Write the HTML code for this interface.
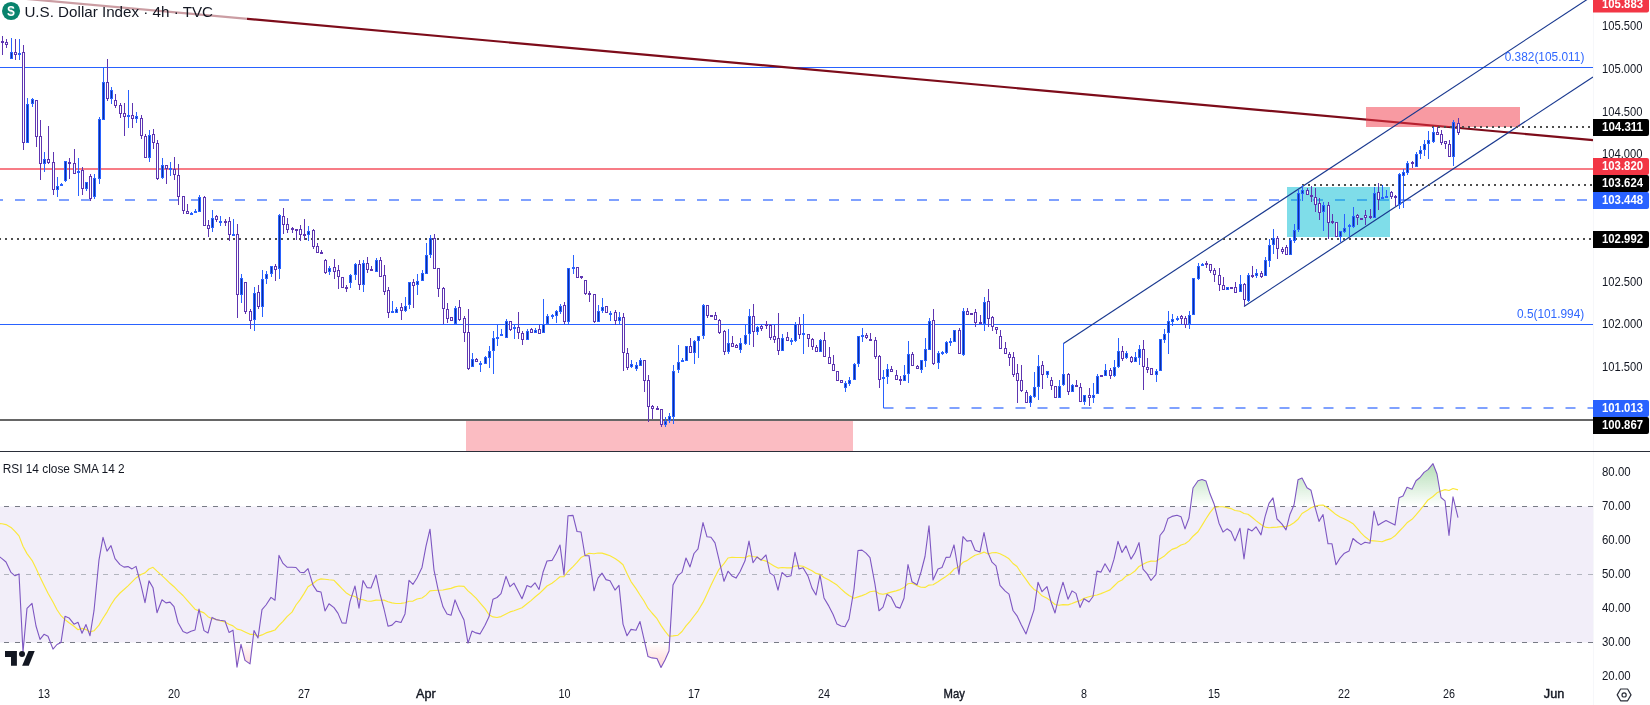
<!DOCTYPE html>
<html><head><meta charset="utf-8"><title>U.S. Dollar Index</title>
<style>
html,body{margin:0;padding:0;background:#fff;overflow:hidden}
body{width:1650px;height:705px;font-family:"Liberation Sans",sans-serif}
svg{display:block;position:absolute;left:0;top:0;will-change:transform}
</style></head><body>
<svg width="1650" height="705" viewBox="0 0 1650 705">
<rect x="0" y="506.5" width="1593" height="136.0" fill="#f2eef9"/>
<line x1="0" y1="506.5" x2="1593" y2="506.5" stroke="#787b86" stroke-width="1" stroke-dasharray="5 6" stroke-dashoffset="7"/>
<line x1="0" y1="574.5" x2="1593" y2="574.5" stroke="#b2b5be" stroke-width="1" stroke-dasharray="5 6" stroke-dashoffset="7"/>
<line x1="0" y1="642.5" x2="1593" y2="642.5" stroke="#787b86" stroke-width="1" stroke-dasharray="5 6" stroke-dashoffset="7"/>
<defs><linearGradient id="obg" gradientUnits="userSpaceOnUse" x1="0" y1="404.5" x2="0" y2="506.5"><stop offset="0" stop-color="#4caf50" stop-opacity="1"/><stop offset="1" stop-color="#4caf50" stop-opacity="0"/></linearGradient><linearGradient id="osg" gradientUnits="userSpaceOnUse" x1="0" y1="642.5" x2="0" y2="744.5"><stop offset="0" stop-color="#ff5252" stop-opacity="0"/><stop offset="1" stop-color="#ff5252" stop-opacity="1"/></linearGradient></defs><clipPath id="ob"><rect x="0" y="452" width="1593" height="54.5"/></clipPath><polygon points="-2.2,506.5 -2.2,555.5 2.0,558.6 6.0,562.0 11.0,572.4 15.0,575.8 19.0,573.9 23.0,651.9 27.0,608.4 32.0,603.4 36.0,626.0 40.0,639.4 44.0,634.3 48.0,636.2 53.0,649.1 57.0,644.5 61.0,642.4 65.0,616.3 69.0,617.9 74.0,624.2 78.0,622.3 82.0,633.2 86.0,624.6 90.0,635.7 94.0,610.7 99.0,559.8 103.0,537.4 107.0,551.1 111.0,545.7 115.0,558.6 120.0,564.6 124.0,567.1 128.0,566.6 132.0,568.9 136.0,566.4 141.0,585.2 145.0,602.6 149.0,580.9 153.0,587.7 157.0,612.7 162.0,599.8 166.0,602.9 170.0,602.1 174.0,606.6 178.0,622.5 183.0,631.5 187.0,633.3 191.0,631.3 195.0,630.0 199.0,609.1 204.0,630.6 208.0,633.0 212.0,617.4 216.0,619.6 220.0,620.3 225.0,621.0 229.0,632.4 233.0,630.2 237.0,667.2 241.0,644.3 245.0,660.4 250.0,663.9 254.0,630.5 258.0,638.0 262.0,609.7 266.0,605.0 271.0,597.4 275.0,600.2 279.0,555.4 283.0,563.4 287.0,567.2 292.0,567.2 296.0,567.5 300.0,572.2 304.0,572.6 308.0,568.7 313.0,585.1 317.0,591.1 321.0,592.0 325.0,610.9 329.0,603.8 334.0,607.6 338.0,613.4 342.0,622.9 346.0,623.3 350.0,601.6 355.0,586.0 359.0,608.2 363.0,580.6 367.0,587.6 371.0,588.0 376.0,574.9 380.0,593.9 384.0,609.0 388.0,626.2 392.0,625.1 396.0,621.2 401.0,622.5 405.0,613.9 409.0,580.3 413.0,584.3 417.0,578.0 422.0,567.4 426.0,546.1 430.0,529.2 434.0,570.1 438.0,589.2 443.0,606.8 447.0,613.9 451.0,615.3 455.0,599.9 459.0,609.7 464.0,620.0 468.0,643.2 472.0,631.1 476.0,632.9 480.0,633.9 485.0,625.2 489.0,616.8 493.0,599.2 497.0,597.5 501.0,593.7 506.0,576.4 510.0,586.7 514.0,583.2 518.0,591.0 522.0,598.7 527.0,585.5 531.0,587.2 535.0,582.8 539.0,589.5 543.0,572.3 547.0,561.0 552.0,560.4 556.0,553.4 560.0,545.1 564.0,574.9 568.0,515.7 573.0,515.4 577.0,531.5 581.0,532.0 585.0,555.7 589.0,555.7 594.0,590.8 598.0,578.1 602.0,573.1 606.0,579.6 610.0,580.8 615.0,590.1 619.0,585.3 623.0,624.1 627.0,635.8 631.0,629.4 636.0,630.2 640.0,621.6 644.0,639.1 648.0,656.6 652.0,657.9 657.0,658.5 661.0,667.4 665.0,660.0 669.0,651.1 673.0,585.1 678.0,575.4 682.0,572.4 686.0,558.0 690.0,566.9 694.0,553.5 698.0,548.9 703.0,522.6 707.0,536.8 711.0,537.3 715.0,542.9 719.0,559.6 724.0,581.3 728.0,571.2 732.0,575.9 736.0,578.1 740.0,571.7 745.0,560.8 749.0,541.1 753.0,562.7 757.0,557.0 761.0,560.1 766.0,555.0 770.0,573.1 774.0,575.6 778.0,590.2 782.0,572.5 787.0,576.8 791.0,575.7 795.0,552.3 799.0,569.0 803.0,567.7 808.0,576.1 812.0,588.1 816.0,595.0 820.0,574.9 824.0,598.0 829.0,606.4 833.0,614.3 837.0,624.1 841.0,626.0 845.0,626.8 849.0,619.0 854.0,589.1 858.0,550.5 862.0,550.1 866.0,553.1 870.0,557.6 875.0,584.3 879.0,610.8 883.0,607.2 887.0,594.3 891.0,597.1 896.0,606.9 900.0,608.1 904.0,598.2 908.0,564.5 912.0,581.8 917.0,584.8 921.0,572.0 925.0,556.5 929.0,525.7 933.0,579.9 938.0,568.9 942.0,567.5 946.0,557.4 950.0,557.1 954.0,544.9 959.0,574.5 963.0,536.6 967.0,541.1 971.0,540.5 975.0,550.3 980.0,552.1 984.0,532.5 988.0,552.6 992.0,562.2 996.0,565.8 1000.0,585.4 1005.0,590.9 1009.0,594.2 1013.0,610.5 1017.0,615.8 1021.0,624.3 1026.0,633.9 1030.0,622.0 1034.0,609.8 1038.0,582.3 1042.0,591.7 1047.0,586.6 1051.0,602.0 1055.0,613.0 1059.0,595.7 1063.0,582.2 1068.0,599.2 1072.0,590.9 1076.0,593.4 1080.0,607.4 1084.0,598.7 1089.0,602.0 1093.0,596.5 1097.0,571.1 1101.0,572.1 1105.0,563.7 1110.0,572.2 1114.0,559.2 1118.0,541.4 1122.0,552.5 1126.0,545.9 1131.0,559.1 1135.0,552.5 1139.0,542.6 1143.0,569.1 1147.0,573.6 1151.0,580.5 1156.0,574.3 1160.0,535.5 1164.0,530.4 1168.0,518.4 1172.0,516.4 1177.0,515.2 1181.0,516.7 1185.0,528.9 1189.0,518.0 1193.0,488.0 1198.0,480.8 1202.0,479.5 1206.0,481.1 1210.0,493.8 1214.0,503.7 1219.0,523.2 1223.0,532.1 1227.0,528.8 1231.0,531.5 1235.0,540.9 1240.0,528.2 1244.0,559.0 1248.0,528.7 1252.0,530.9 1256.0,526.8 1261.0,534.9 1265.0,516.8 1269.0,503.4 1273.0,497.9 1277.0,519.0 1282.0,524.1 1286.0,529.9 1290.0,514.2 1294.0,505.0 1298.0,479.8 1302.0,478.0 1307.0,487.8 1311.0,490.3 1315.0,507.0 1319.0,521.4 1323.0,514.5 1328.0,543.8 1332.0,543.8 1336.0,564.8 1340.0,558.1 1344.0,553.6 1349.0,551.1 1353.0,538.5 1357.0,542.0 1361.0,544.6 1365.0,542.2 1370.0,543.2 1374.0,511.1 1378.0,525.2 1382.0,522.7 1386.0,520.6 1391.0,523.0 1395.0,525.1 1399.0,497.8 1403.0,495.9 1407.0,487.3 1412.0,489.3 1416.0,480.7 1420.0,477.5 1424.0,472.4 1428.0,469.6 1433.0,463.7 1437.0,474.0 1441.0,497.5 1445.0,500.8 1449.0,535.5 1453.0,496.9 1458.0,517.6 1458.0,506.5" fill="url(#obg)" clip-path="url(#ob)"/><clipPath id="os"><rect x="0" y="642.5" width="1593" height="47.5"/></clipPath><polygon points="-2.2,642.5 -2.2,555.5 2.0,558.6 6.0,562.0 11.0,572.4 15.0,575.8 19.0,573.9 23.0,651.9 27.0,608.4 32.0,603.4 36.0,626.0 40.0,639.4 44.0,634.3 48.0,636.2 53.0,649.1 57.0,644.5 61.0,642.4 65.0,616.3 69.0,617.9 74.0,624.2 78.0,622.3 82.0,633.2 86.0,624.6 90.0,635.7 94.0,610.7 99.0,559.8 103.0,537.4 107.0,551.1 111.0,545.7 115.0,558.6 120.0,564.6 124.0,567.1 128.0,566.6 132.0,568.9 136.0,566.4 141.0,585.2 145.0,602.6 149.0,580.9 153.0,587.7 157.0,612.7 162.0,599.8 166.0,602.9 170.0,602.1 174.0,606.6 178.0,622.5 183.0,631.5 187.0,633.3 191.0,631.3 195.0,630.0 199.0,609.1 204.0,630.6 208.0,633.0 212.0,617.4 216.0,619.6 220.0,620.3 225.0,621.0 229.0,632.4 233.0,630.2 237.0,667.2 241.0,644.3 245.0,660.4 250.0,663.9 254.0,630.5 258.0,638.0 262.0,609.7 266.0,605.0 271.0,597.4 275.0,600.2 279.0,555.4 283.0,563.4 287.0,567.2 292.0,567.2 296.0,567.5 300.0,572.2 304.0,572.6 308.0,568.7 313.0,585.1 317.0,591.1 321.0,592.0 325.0,610.9 329.0,603.8 334.0,607.6 338.0,613.4 342.0,622.9 346.0,623.3 350.0,601.6 355.0,586.0 359.0,608.2 363.0,580.6 367.0,587.6 371.0,588.0 376.0,574.9 380.0,593.9 384.0,609.0 388.0,626.2 392.0,625.1 396.0,621.2 401.0,622.5 405.0,613.9 409.0,580.3 413.0,584.3 417.0,578.0 422.0,567.4 426.0,546.1 430.0,529.2 434.0,570.1 438.0,589.2 443.0,606.8 447.0,613.9 451.0,615.3 455.0,599.9 459.0,609.7 464.0,620.0 468.0,643.2 472.0,631.1 476.0,632.9 480.0,633.9 485.0,625.2 489.0,616.8 493.0,599.2 497.0,597.5 501.0,593.7 506.0,576.4 510.0,586.7 514.0,583.2 518.0,591.0 522.0,598.7 527.0,585.5 531.0,587.2 535.0,582.8 539.0,589.5 543.0,572.3 547.0,561.0 552.0,560.4 556.0,553.4 560.0,545.1 564.0,574.9 568.0,515.7 573.0,515.4 577.0,531.5 581.0,532.0 585.0,555.7 589.0,555.7 594.0,590.8 598.0,578.1 602.0,573.1 606.0,579.6 610.0,580.8 615.0,590.1 619.0,585.3 623.0,624.1 627.0,635.8 631.0,629.4 636.0,630.2 640.0,621.6 644.0,639.1 648.0,656.6 652.0,657.9 657.0,658.5 661.0,667.4 665.0,660.0 669.0,651.1 673.0,585.1 678.0,575.4 682.0,572.4 686.0,558.0 690.0,566.9 694.0,553.5 698.0,548.9 703.0,522.6 707.0,536.8 711.0,537.3 715.0,542.9 719.0,559.6 724.0,581.3 728.0,571.2 732.0,575.9 736.0,578.1 740.0,571.7 745.0,560.8 749.0,541.1 753.0,562.7 757.0,557.0 761.0,560.1 766.0,555.0 770.0,573.1 774.0,575.6 778.0,590.2 782.0,572.5 787.0,576.8 791.0,575.7 795.0,552.3 799.0,569.0 803.0,567.7 808.0,576.1 812.0,588.1 816.0,595.0 820.0,574.9 824.0,598.0 829.0,606.4 833.0,614.3 837.0,624.1 841.0,626.0 845.0,626.8 849.0,619.0 854.0,589.1 858.0,550.5 862.0,550.1 866.0,553.1 870.0,557.6 875.0,584.3 879.0,610.8 883.0,607.2 887.0,594.3 891.0,597.1 896.0,606.9 900.0,608.1 904.0,598.2 908.0,564.5 912.0,581.8 917.0,584.8 921.0,572.0 925.0,556.5 929.0,525.7 933.0,579.9 938.0,568.9 942.0,567.5 946.0,557.4 950.0,557.1 954.0,544.9 959.0,574.5 963.0,536.6 967.0,541.1 971.0,540.5 975.0,550.3 980.0,552.1 984.0,532.5 988.0,552.6 992.0,562.2 996.0,565.8 1000.0,585.4 1005.0,590.9 1009.0,594.2 1013.0,610.5 1017.0,615.8 1021.0,624.3 1026.0,633.9 1030.0,622.0 1034.0,609.8 1038.0,582.3 1042.0,591.7 1047.0,586.6 1051.0,602.0 1055.0,613.0 1059.0,595.7 1063.0,582.2 1068.0,599.2 1072.0,590.9 1076.0,593.4 1080.0,607.4 1084.0,598.7 1089.0,602.0 1093.0,596.5 1097.0,571.1 1101.0,572.1 1105.0,563.7 1110.0,572.2 1114.0,559.2 1118.0,541.4 1122.0,552.5 1126.0,545.9 1131.0,559.1 1135.0,552.5 1139.0,542.6 1143.0,569.1 1147.0,573.6 1151.0,580.5 1156.0,574.3 1160.0,535.5 1164.0,530.4 1168.0,518.4 1172.0,516.4 1177.0,515.2 1181.0,516.7 1185.0,528.9 1189.0,518.0 1193.0,488.0 1198.0,480.8 1202.0,479.5 1206.0,481.1 1210.0,493.8 1214.0,503.7 1219.0,523.2 1223.0,532.1 1227.0,528.8 1231.0,531.5 1235.0,540.9 1240.0,528.2 1244.0,559.0 1248.0,528.7 1252.0,530.9 1256.0,526.8 1261.0,534.9 1265.0,516.8 1269.0,503.4 1273.0,497.9 1277.0,519.0 1282.0,524.1 1286.0,529.9 1290.0,514.2 1294.0,505.0 1298.0,479.8 1302.0,478.0 1307.0,487.8 1311.0,490.3 1315.0,507.0 1319.0,521.4 1323.0,514.5 1328.0,543.8 1332.0,543.8 1336.0,564.8 1340.0,558.1 1344.0,553.6 1349.0,551.1 1353.0,538.5 1357.0,542.0 1361.0,544.6 1365.0,542.2 1370.0,543.2 1374.0,511.1 1378.0,525.2 1382.0,522.7 1386.0,520.6 1391.0,523.0 1395.0,525.1 1399.0,497.8 1403.0,495.9 1407.0,487.3 1412.0,489.3 1416.0,480.7 1420.0,477.5 1424.0,472.4 1428.0,469.6 1433.0,463.7 1437.0,474.0 1441.0,497.5 1445.0,500.8 1449.0,535.5 1453.0,496.9 1458.0,517.6 1458.0,642.5" fill="url(#osg)" clip-path="url(#os)"/><polyline points="-2.2,523.5 2.0,523.8 6.0,524.6 11.0,527.4 15.0,531.4 19.0,535.9 23.0,546.3 27.0,553.6 32.0,560.3 36.0,568.3 40.0,577.1 44.0,585.3 48.0,593.3 53.0,602.0 57.0,609.7 61.0,615.7 65.0,619.6 69.0,622.8 74.0,626.3 78.0,629.7 82.0,628.4 86.0,629.6 90.0,631.9 94.0,630.8 99.0,625.1 103.0,618.2 107.0,612.1 111.0,604.7 115.0,598.6 120.0,593.0 124.0,589.5 128.0,585.8 132.0,581.9 136.0,577.9 141.0,574.5 145.0,572.9 149.0,569.0 153.0,567.3 157.0,571.1 162.0,575.6 166.0,579.3 170.0,583.3 174.0,586.7 178.0,590.9 183.0,595.5 187.0,600.2 191.0,604.7 195.0,609.2 199.0,610.9 204.0,612.9 208.0,616.7 212.0,618.8 216.0,619.3 220.0,620.7 225.0,622.0 229.0,624.2 233.0,625.9 237.0,629.1 241.0,630.0 245.0,631.9 250.0,634.3 254.0,634.3 258.0,636.3 262.0,634.9 266.0,632.9 271.0,631.4 275.0,630.0 279.0,625.4 283.0,621.3 287.0,616.6 292.0,612.1 296.0,605.0 300.0,599.9 304.0,593.6 308.0,586.8 313.0,583.5 317.0,580.2 321.0,578.9 325.0,579.3 329.0,579.8 334.0,580.3 338.0,584.5 342.0,588.7 346.0,592.7 350.0,595.2 355.0,596.5 359.0,599.1 363.0,599.7 367.0,601.0 371.0,601.2 376.0,600.1 380.0,600.2 384.0,600.1 388.0,601.7 392.0,602.9 396.0,603.5 401.0,603.4 405.0,602.8 409.0,601.2 413.0,601.1 417.0,599.0 422.0,598.0 426.0,595.1 430.0,590.9 434.0,590.5 438.0,590.2 443.0,590.0 447.0,589.1 451.0,588.4 455.0,586.9 459.0,586.0 464.0,586.4 468.0,590.9 472.0,594.3 476.0,598.2 480.0,602.9 485.0,608.6 489.0,614.8 493.0,616.9 497.0,617.5 501.0,616.6 506.0,613.9 510.0,611.9 514.0,610.7 518.0,609.3 522.0,607.8 527.0,603.7 531.0,600.6 535.0,597.0 539.0,593.8 543.0,590.0 547.0,586.0 552.0,583.3 556.0,580.1 560.0,576.7 564.0,576.6 568.0,571.5 573.0,566.6 577.0,562.4 581.0,557.6 585.0,555.5 589.0,553.2 594.0,553.8 598.0,553.0 602.0,553.1 606.0,554.4 610.0,555.8 615.0,558.5 619.0,561.3 623.0,564.8 627.0,573.4 631.0,581.6 636.0,588.6 640.0,595.0 644.0,601.0 648.0,608.2 652.0,613.0 657.0,618.7 661.0,625.4 665.0,631.2 669.0,636.2 673.0,635.9 678.0,635.2 682.0,631.5 686.0,625.9 690.0,621.4 694.0,616.0 698.0,610.8 703.0,602.4 707.0,593.9 711.0,585.3 715.0,577.0 719.0,569.3 724.0,563.7 728.0,558.0 732.0,557.3 736.0,557.5 740.0,557.5 745.0,557.7 749.0,555.8 753.0,556.5 757.0,557.1 761.0,559.7 766.0,561.1 770.0,563.6 774.0,565.9 778.0,568.1 782.0,567.5 787.0,567.9 791.0,567.9 795.0,566.0 799.0,565.8 803.0,566.3 808.0,568.8 812.0,570.7 816.0,573.4 820.0,574.4 824.0,577.5 829.0,579.9 833.0,582.6 837.0,585.1 841.0,588.9 845.0,592.5 849.0,595.5 854.0,598.2 858.0,596.9 862.0,595.6 866.0,594.0 870.0,591.8 875.0,591.0 879.0,593.6 883.0,594.2 887.0,593.4 891.0,592.1 896.0,590.9 900.0,589.6 904.0,587.6 908.0,583.7 912.0,583.2 917.0,585.6 921.0,587.2 925.0,587.4 929.0,585.1 933.0,584.8 938.0,581.8 942.0,579.0 946.0,576.4 950.0,573.5 954.0,569.1 959.0,566.7 963.0,562.3 967.0,560.6 971.0,557.7 975.0,555.2 980.0,553.8 984.0,552.1 988.0,554.0 992.0,552.7 996.0,552.5 1000.0,553.8 1005.0,556.2 1009.0,558.8 1013.0,563.5 1017.0,566.5 1021.0,572.7 1026.0,579.4 1030.0,585.2 1034.0,589.4 1038.0,591.6 1042.0,595.8 1047.0,598.3 1051.0,601.1 1055.0,604.5 1059.0,605.2 1063.0,604.6 1068.0,604.9 1072.0,603.5 1076.0,601.9 1080.0,600.7 1084.0,598.2 1089.0,596.8 1093.0,595.8 1097.0,595.0 1101.0,593.6 1105.0,592.0 1110.0,589.9 1114.0,586.0 1118.0,582.1 1122.0,580.0 1126.0,576.2 1131.0,573.9 1135.0,571.0 1139.0,566.4 1143.0,564.3 1147.0,562.3 1151.0,561.1 1156.0,561.3 1160.0,558.7 1164.0,556.3 1168.0,552.5 1172.0,549.4 1177.0,547.6 1181.0,545.0 1185.0,543.8 1189.0,540.9 1193.0,536.2 1198.0,531.8 1202.0,525.4 1206.0,518.8 1210.0,512.6 1214.0,507.6 1219.0,506.7 1223.0,506.8 1227.0,507.6 1231.0,508.6 1235.0,510.5 1240.0,511.3 1244.0,513.5 1248.0,514.2 1252.0,517.3 1256.0,520.6 1261.0,524.5 1265.0,527.1 1269.0,527.8 1273.0,527.4 1277.0,527.1 1282.0,526.5 1286.0,526.6 1290.0,525.3 1294.0,522.8 1298.0,519.3 1302.0,513.5 1307.0,510.6 1311.0,507.7 1315.0,506.3 1319.0,505.3 1323.0,505.1 1328.0,508.0 1332.0,511.3 1336.0,514.6 1340.0,517.0 1344.0,518.7 1349.0,521.3 1353.0,523.7 1357.0,528.2 1361.0,532.9 1365.0,536.8 1370.0,540.6 1374.0,540.9 1378.0,541.2 1382.0,541.8 1386.0,540.1 1391.0,538.6 1395.0,535.8 1399.0,531.5 1403.0,527.4 1407.0,522.8 1412.0,519.3 1416.0,514.9 1420.0,510.1 1424.0,505.1 1428.0,499.9 1433.0,496.5 1437.0,492.8 1441.0,491.0 1445.0,489.6 1449.0,490.5 1453.0,488.5 1458.0,489.9" fill="none" stroke="#fbe83a" stroke-width="1.15" stroke-linejoin="round"/><polyline points="-2.2,555.5 2.0,558.6 6.0,562.0 11.0,572.4 15.0,575.8 19.0,573.9 23.0,651.9 27.0,608.4 32.0,603.4 36.0,626.0 40.0,639.4 44.0,634.3 48.0,636.2 53.0,649.1 57.0,644.5 61.0,642.4 65.0,616.3 69.0,617.9 74.0,624.2 78.0,622.3 82.0,633.2 86.0,624.6 90.0,635.7 94.0,610.7 99.0,559.8 103.0,537.4 107.0,551.1 111.0,545.7 115.0,558.6 120.0,564.6 124.0,567.1 128.0,566.6 132.0,568.9 136.0,566.4 141.0,585.2 145.0,602.6 149.0,580.9 153.0,587.7 157.0,612.7 162.0,599.8 166.0,602.9 170.0,602.1 174.0,606.6 178.0,622.5 183.0,631.5 187.0,633.3 191.0,631.3 195.0,630.0 199.0,609.1 204.0,630.6 208.0,633.0 212.0,617.4 216.0,619.6 220.0,620.3 225.0,621.0 229.0,632.4 233.0,630.2 237.0,667.2 241.0,644.3 245.0,660.4 250.0,663.9 254.0,630.5 258.0,638.0 262.0,609.7 266.0,605.0 271.0,597.4 275.0,600.2 279.0,555.4 283.0,563.4 287.0,567.2 292.0,567.2 296.0,567.5 300.0,572.2 304.0,572.6 308.0,568.7 313.0,585.1 317.0,591.1 321.0,592.0 325.0,610.9 329.0,603.8 334.0,607.6 338.0,613.4 342.0,622.9 346.0,623.3 350.0,601.6 355.0,586.0 359.0,608.2 363.0,580.6 367.0,587.6 371.0,588.0 376.0,574.9 380.0,593.9 384.0,609.0 388.0,626.2 392.0,625.1 396.0,621.2 401.0,622.5 405.0,613.9 409.0,580.3 413.0,584.3 417.0,578.0 422.0,567.4 426.0,546.1 430.0,529.2 434.0,570.1 438.0,589.2 443.0,606.8 447.0,613.9 451.0,615.3 455.0,599.9 459.0,609.7 464.0,620.0 468.0,643.2 472.0,631.1 476.0,632.9 480.0,633.9 485.0,625.2 489.0,616.8 493.0,599.2 497.0,597.5 501.0,593.7 506.0,576.4 510.0,586.7 514.0,583.2 518.0,591.0 522.0,598.7 527.0,585.5 531.0,587.2 535.0,582.8 539.0,589.5 543.0,572.3 547.0,561.0 552.0,560.4 556.0,553.4 560.0,545.1 564.0,574.9 568.0,515.7 573.0,515.4 577.0,531.5 581.0,532.0 585.0,555.7 589.0,555.7 594.0,590.8 598.0,578.1 602.0,573.1 606.0,579.6 610.0,580.8 615.0,590.1 619.0,585.3 623.0,624.1 627.0,635.8 631.0,629.4 636.0,630.2 640.0,621.6 644.0,639.1 648.0,656.6 652.0,657.9 657.0,658.5 661.0,667.4 665.0,660.0 669.0,651.1 673.0,585.1 678.0,575.4 682.0,572.4 686.0,558.0 690.0,566.9 694.0,553.5 698.0,548.9 703.0,522.6 707.0,536.8 711.0,537.3 715.0,542.9 719.0,559.6 724.0,581.3 728.0,571.2 732.0,575.9 736.0,578.1 740.0,571.7 745.0,560.8 749.0,541.1 753.0,562.7 757.0,557.0 761.0,560.1 766.0,555.0 770.0,573.1 774.0,575.6 778.0,590.2 782.0,572.5 787.0,576.8 791.0,575.7 795.0,552.3 799.0,569.0 803.0,567.7 808.0,576.1 812.0,588.1 816.0,595.0 820.0,574.9 824.0,598.0 829.0,606.4 833.0,614.3 837.0,624.1 841.0,626.0 845.0,626.8 849.0,619.0 854.0,589.1 858.0,550.5 862.0,550.1 866.0,553.1 870.0,557.6 875.0,584.3 879.0,610.8 883.0,607.2 887.0,594.3 891.0,597.1 896.0,606.9 900.0,608.1 904.0,598.2 908.0,564.5 912.0,581.8 917.0,584.8 921.0,572.0 925.0,556.5 929.0,525.7 933.0,579.9 938.0,568.9 942.0,567.5 946.0,557.4 950.0,557.1 954.0,544.9 959.0,574.5 963.0,536.6 967.0,541.1 971.0,540.5 975.0,550.3 980.0,552.1 984.0,532.5 988.0,552.6 992.0,562.2 996.0,565.8 1000.0,585.4 1005.0,590.9 1009.0,594.2 1013.0,610.5 1017.0,615.8 1021.0,624.3 1026.0,633.9 1030.0,622.0 1034.0,609.8 1038.0,582.3 1042.0,591.7 1047.0,586.6 1051.0,602.0 1055.0,613.0 1059.0,595.7 1063.0,582.2 1068.0,599.2 1072.0,590.9 1076.0,593.4 1080.0,607.4 1084.0,598.7 1089.0,602.0 1093.0,596.5 1097.0,571.1 1101.0,572.1 1105.0,563.7 1110.0,572.2 1114.0,559.2 1118.0,541.4 1122.0,552.5 1126.0,545.9 1131.0,559.1 1135.0,552.5 1139.0,542.6 1143.0,569.1 1147.0,573.6 1151.0,580.5 1156.0,574.3 1160.0,535.5 1164.0,530.4 1168.0,518.4 1172.0,516.4 1177.0,515.2 1181.0,516.7 1185.0,528.9 1189.0,518.0 1193.0,488.0 1198.0,480.8 1202.0,479.5 1206.0,481.1 1210.0,493.8 1214.0,503.7 1219.0,523.2 1223.0,532.1 1227.0,528.8 1231.0,531.5 1235.0,540.9 1240.0,528.2 1244.0,559.0 1248.0,528.7 1252.0,530.9 1256.0,526.8 1261.0,534.9 1265.0,516.8 1269.0,503.4 1273.0,497.9 1277.0,519.0 1282.0,524.1 1286.0,529.9 1290.0,514.2 1294.0,505.0 1298.0,479.8 1302.0,478.0 1307.0,487.8 1311.0,490.3 1315.0,507.0 1319.0,521.4 1323.0,514.5 1328.0,543.8 1332.0,543.8 1336.0,564.8 1340.0,558.1 1344.0,553.6 1349.0,551.1 1353.0,538.5 1357.0,542.0 1361.0,544.6 1365.0,542.2 1370.0,543.2 1374.0,511.1 1378.0,525.2 1382.0,522.7 1386.0,520.6 1391.0,523.0 1395.0,525.1 1399.0,497.8 1403.0,495.9 1407.0,487.3 1412.0,489.3 1416.0,480.7 1420.0,477.5 1424.0,472.4 1428.0,469.6 1433.0,463.7 1437.0,474.0 1441.0,497.5 1445.0,500.8 1449.0,535.5 1453.0,496.9 1458.0,517.6" fill="none" stroke="#7e57c2" stroke-width="1.1" stroke-linejoin="round"/>
<rect x="466" y="421" width="387" height="30" fill="#fbbcc2"/>
<line x1="0" y1="67.5" x2="1593" y2="67.5" stroke="#2962ff" stroke-width="1"/>
<line x1="0" y1="324.5" x2="1593" y2="324.5" stroke="#2962ff" stroke-width="1"/>
<line x1="0" y1="169" x2="1593" y2="169" stroke="#f77c86" stroke-width="2"/>
<line x1="0" y1="200" x2="1593" y2="200" stroke="#7fa1ff" stroke-width="2" stroke-dasharray="10 12" stroke-dashoffset="7"/>
<rect x="1287" y="187" width="103" height="50" fill="#00bcd4" fill-opacity="0.5"/>
<line x1="883.5" y1="408" x2="1593" y2="408" stroke="#7fa1ff" stroke-width="2" stroke-dasharray="10 12"/>
<line x1="0" y1="420" x2="1593" y2="420" stroke="#666" stroke-width="2"/>
<line x1="20" y1="-1.65" x2="1593" y2="140.05" stroke="#7d0c1a" stroke-width="2.2"/>
<rect x="1366" y="107" width="154" height="20" fill="#f23645" fill-opacity="0.5"/>
<line x1="1063.5" y1="343.4" x2="1593" y2="-4.4" stroke="#18388f" stroke-width="1.15"/>
<line x1="1244" y1="306.5" x2="1593" y2="77" stroke="#18388f" stroke-width="1.15"/>
<line x1="0" y1="239" x2="1593" y2="239" stroke="#4d4d4d" stroke-width="2" stroke-dasharray="2 4" stroke-dashoffset="1"/>
<line x1="1302" y1="185" x2="1593" y2="185" stroke="#4d4d4d" stroke-width="2" stroke-dasharray="2 4"/>
<line x1="1432" y1="127" x2="1593" y2="127" stroke="#4d4d4d" stroke-width="2" stroke-dasharray="2 4"/>
<g shape-rendering="crispEdges"><rect x="2" y="36" width="1" height="19" fill="#5e35b1"/><rect x="1" y="41" width="3" height="2" fill="#5e35b1"/><rect x="6" y="39" width="1" height="9" fill="#5e35b1"/><rect x="5" y="42" width="3" height="3" fill="#5e35b1"/><rect x="6" y="43" width="1" height="1" fill="#fff"/><rect x="11" y="38" width="1" height="21" fill="#2962ff"/><rect x="10" y="52" width="3" height="7" fill="#2962ff"/><rect x="11" y="53" width="1" height="5" fill="#0d2f9e"/><rect x="15" y="39" width="1" height="21" fill="#5e35b1"/><rect x="14" y="52" width="3" height="3" fill="#5e35b1"/><rect x="15" y="53" width="1" height="1" fill="#fff"/><rect x="19" y="39" width="1" height="21" fill="#2962ff"/><rect x="18" y="53" width="3" height="2" fill="#2962ff"/><rect x="23" y="45" width="1" height="105" fill="#5e35b1"/><rect x="22" y="52" width="3" height="91" fill="#5e35b1"/><rect x="23" y="53" width="1" height="89" fill="#fff"/><rect x="27" y="98" width="1" height="45" fill="#2962ff"/><rect x="26" y="104" width="3" height="39" fill="#2962ff"/><rect x="27" y="105" width="1" height="37" fill="#0d2f9e"/><rect x="32" y="98" width="1" height="9" fill="#2962ff"/><rect x="31" y="99" width="3" height="5" fill="#2962ff"/><rect x="32" y="100" width="1" height="3" fill="#0d2f9e"/><rect x="36" y="100" width="1" height="47" fill="#5e35b1"/><rect x="35" y="100" width="3" height="37" fill="#5e35b1"/><rect x="36" y="101" width="1" height="35" fill="#fff"/><rect x="40" y="120" width="1" height="60" fill="#5e35b1"/><rect x="39" y="136" width="3" height="28" fill="#5e35b1"/><rect x="40" y="137" width="1" height="26" fill="#fff"/><rect x="44" y="152" width="1" height="20" fill="#2962ff"/><rect x="43" y="159" width="3" height="5" fill="#2962ff"/><rect x="44" y="160" width="1" height="3" fill="#0d2f9e"/><rect x="48" y="126" width="1" height="38" fill="#5e35b1"/><rect x="47" y="159" width="3" height="4" fill="#5e35b1"/><rect x="48" y="160" width="1" height="2" fill="#fff"/><rect x="53" y="152" width="1" height="43" fill="#5e35b1"/><rect x="52" y="162" width="3" height="28" fill="#5e35b1"/><rect x="53" y="163" width="1" height="26" fill="#fff"/><rect x="57" y="177" width="1" height="20" fill="#2962ff"/><rect x="56" y="186" width="3" height="4" fill="#2962ff"/><rect x="57" y="187" width="1" height="2" fill="#0d2f9e"/><rect x="61" y="183" width="1" height="3" fill="#2962ff"/><rect x="60" y="184" width="3" height="2" fill="#2962ff"/><rect x="65" y="161" width="1" height="21" fill="#2962ff"/><rect x="64" y="161" width="3" height="20" fill="#2962ff"/><rect x="65" y="162" width="1" height="18" fill="#0d2f9e"/><rect x="69" y="158" width="1" height="21" fill="#5e35b1"/><rect x="68" y="162" width="3" height="2" fill="#5e35b1"/><rect x="74" y="149" width="1" height="25" fill="#5e35b1"/><rect x="73" y="163" width="3" height="11" fill="#5e35b1"/><rect x="74" y="164" width="1" height="9" fill="#fff"/><rect x="78" y="158" width="1" height="38" fill="#2962ff"/><rect x="77" y="171" width="3" height="2" fill="#2962ff"/><rect x="82" y="167" width="1" height="28" fill="#5e35b1"/><rect x="81" y="170" width="3" height="19" fill="#5e35b1"/><rect x="82" y="171" width="1" height="17" fill="#fff"/><rect x="86" y="182" width="1" height="9" fill="#2962ff"/><rect x="85" y="182" width="3" height="7" fill="#2962ff"/><rect x="86" y="183" width="1" height="5" fill="#0d2f9e"/><rect x="90" y="174" width="1" height="27" fill="#5e35b1"/><rect x="89" y="176" width="3" height="23" fill="#5e35b1"/><rect x="90" y="177" width="1" height="21" fill="#fff"/><rect x="94" y="174" width="1" height="25" fill="#2962ff"/><rect x="93" y="178" width="3" height="19" fill="#2962ff"/><rect x="94" y="179" width="1" height="17" fill="#0d2f9e"/><rect x="99" y="117" width="1" height="67" fill="#2962ff"/><rect x="98" y="119" width="3" height="60" fill="#2962ff"/><rect x="99" y="120" width="1" height="58" fill="#0d2f9e"/><rect x="103" y="68" width="1" height="52" fill="#2962ff"/><rect x="102" y="82" width="3" height="38" fill="#2962ff"/><rect x="103" y="83" width="1" height="36" fill="#0d2f9e"/><rect x="107" y="59" width="1" height="42" fill="#5e35b1"/><rect x="106" y="82" width="3" height="17" fill="#5e35b1"/><rect x="107" y="83" width="1" height="15" fill="#fff"/><rect x="111" y="87" width="1" height="17" fill="#2962ff"/><rect x="110" y="90" width="3" height="9" fill="#2962ff"/><rect x="111" y="91" width="1" height="7" fill="#0d2f9e"/><rect x="115" y="94" width="1" height="14" fill="#5e35b1"/><rect x="114" y="100" width="3" height="6" fill="#5e35b1"/><rect x="115" y="101" width="1" height="4" fill="#fff"/><rect x="120" y="103" width="1" height="15" fill="#5e35b1"/><rect x="119" y="105" width="3" height="9" fill="#5e35b1"/><rect x="120" y="106" width="1" height="7" fill="#fff"/><rect x="124" y="103" width="1" height="33" fill="#5e35b1"/><rect x="123" y="113" width="3" height="4" fill="#5e35b1"/><rect x="124" y="114" width="1" height="2" fill="#fff"/><rect x="128" y="90" width="1" height="38" fill="#2962ff"/><rect x="127" y="115" width="3" height="2" fill="#2962ff"/><rect x="132" y="103" width="1" height="25" fill="#5e35b1"/><rect x="131" y="115" width="3" height="4" fill="#5e35b1"/><rect x="132" y="116" width="1" height="2" fill="#fff"/><rect x="136" y="112" width="1" height="11" fill="#2962ff"/><rect x="135" y="116" width="3" height="3" fill="#2962ff"/><rect x="136" y="117" width="1" height="1" fill="#0d2f9e"/><rect x="141" y="115" width="1" height="24" fill="#5e35b1"/><rect x="140" y="118" width="3" height="18" fill="#5e35b1"/><rect x="141" y="119" width="1" height="16" fill="#fff"/><rect x="145" y="134" width="1" height="24" fill="#5e35b1"/><rect x="144" y="136" width="3" height="22" fill="#5e35b1"/><rect x="145" y="137" width="1" height="20" fill="#fff"/><rect x="149" y="130" width="1" height="32" fill="#2962ff"/><rect x="148" y="135" width="3" height="23" fill="#2962ff"/><rect x="149" y="136" width="1" height="21" fill="#0d2f9e"/><rect x="153" y="129" width="1" height="20" fill="#5e35b1"/><rect x="152" y="134" width="3" height="9" fill="#5e35b1"/><rect x="153" y="135" width="1" height="7" fill="#fff"/><rect x="157" y="140" width="1" height="40" fill="#5e35b1"/><rect x="156" y="143" width="3" height="36" fill="#5e35b1"/><rect x="157" y="144" width="1" height="34" fill="#fff"/><rect x="162" y="158" width="1" height="21" fill="#2962ff"/><rect x="161" y="165" width="3" height="13" fill="#2962ff"/><rect x="162" y="166" width="1" height="11" fill="#0d2f9e"/><rect x="166" y="165" width="1" height="19" fill="#5e35b1"/><rect x="165" y="165" width="3" height="4" fill="#5e35b1"/><rect x="166" y="166" width="1" height="2" fill="#fff"/><rect x="170" y="162" width="1" height="14" fill="#2962ff"/><rect x="169" y="168" width="3" height="2" fill="#2962ff"/><rect x="174" y="157" width="1" height="23" fill="#5e35b1"/><rect x="173" y="169" width="3" height="6" fill="#5e35b1"/><rect x="174" y="170" width="1" height="4" fill="#fff"/><rect x="178" y="164" width="1" height="41" fill="#5e35b1"/><rect x="177" y="175" width="3" height="22" fill="#5e35b1"/><rect x="178" y="176" width="1" height="20" fill="#fff"/><rect x="183" y="196" width="1" height="18" fill="#5e35b1"/><rect x="182" y="196" width="3" height="15" fill="#5e35b1"/><rect x="183" y="197" width="1" height="13" fill="#fff"/><rect x="187" y="204" width="1" height="10" fill="#5e35b1"/><rect x="186" y="211" width="3" height="3" fill="#5e35b1"/><rect x="187" y="212" width="1" height="1" fill="#fff"/><rect x="191" y="212" width="1" height="2" fill="#2962ff"/><rect x="190" y="213" width="3" height="2" fill="#2962ff"/><rect x="195" y="209" width="1" height="4" fill="#2962ff"/><rect x="194" y="211" width="3" height="2" fill="#2962ff"/><rect x="199" y="195" width="1" height="17" fill="#2962ff"/><rect x="198" y="197" width="3" height="15" fill="#2962ff"/><rect x="199" y="198" width="1" height="13" fill="#0d2f9e"/><rect x="204" y="196" width="1" height="30" fill="#5e35b1"/><rect x="203" y="197" width="3" height="29" fill="#5e35b1"/><rect x="204" y="198" width="1" height="27" fill="#fff"/><rect x="208" y="220" width="1" height="17" fill="#5e35b1"/><rect x="207" y="225" width="3" height="4" fill="#5e35b1"/><rect x="208" y="226" width="1" height="2" fill="#fff"/><rect x="212" y="210" width="1" height="22" fill="#2962ff"/><rect x="211" y="218" width="3" height="10" fill="#2962ff"/><rect x="212" y="219" width="1" height="8" fill="#0d2f9e"/><rect x="216" y="215" width="1" height="7" fill="#5e35b1"/><rect x="215" y="216" width="3" height="4" fill="#5e35b1"/><rect x="216" y="217" width="1" height="2" fill="#fff"/><rect x="220" y="216" width="1" height="10" fill="#2962ff"/><rect x="219" y="221" width="3" height="2" fill="#2962ff"/><rect x="225" y="219" width="1" height="7" fill="#5e35b1"/><rect x="224" y="221" width="3" height="2" fill="#5e35b1"/><rect x="229" y="217" width="1" height="24" fill="#5e35b1"/><rect x="228" y="221" width="3" height="14" fill="#5e35b1"/><rect x="229" y="222" width="1" height="12" fill="#fff"/><rect x="233" y="219" width="1" height="16" fill="#2962ff"/><rect x="232" y="234" width="3" height="2" fill="#2962ff"/><rect x="237" y="224" width="1" height="94" fill="#5e35b1"/><rect x="236" y="234" width="3" height="61" fill="#5e35b1"/><rect x="237" y="235" width="1" height="59" fill="#fff"/><rect x="241" y="274" width="1" height="29" fill="#2962ff"/><rect x="240" y="278" width="3" height="17" fill="#2962ff"/><rect x="241" y="279" width="1" height="15" fill="#0d2f9e"/><rect x="245" y="282" width="1" height="32" fill="#5e35b1"/><rect x="244" y="282" width="3" height="30" fill="#5e35b1"/><rect x="245" y="283" width="1" height="28" fill="#fff"/><rect x="250" y="309" width="1" height="20" fill="#5e35b1"/><rect x="249" y="311" width="3" height="10" fill="#5e35b1"/><rect x="250" y="312" width="1" height="8" fill="#fff"/><rect x="254" y="287" width="1" height="44" fill="#2962ff"/><rect x="253" y="293" width="3" height="27" fill="#2962ff"/><rect x="254" y="294" width="1" height="25" fill="#0d2f9e"/><rect x="258" y="285" width="1" height="24" fill="#5e35b1"/><rect x="257" y="292" width="3" height="15" fill="#5e35b1"/><rect x="258" y="293" width="1" height="13" fill="#fff"/><rect x="262" y="270" width="1" height="47" fill="#2962ff"/><rect x="261" y="279" width="3" height="28" fill="#2962ff"/><rect x="262" y="280" width="1" height="26" fill="#0d2f9e"/><rect x="266" y="271" width="1" height="13" fill="#2962ff"/><rect x="265" y="274" width="3" height="5" fill="#2962ff"/><rect x="266" y="275" width="1" height="3" fill="#0d2f9e"/><rect x="271" y="266" width="1" height="11" fill="#2962ff"/><rect x="270" y="266" width="3" height="8" fill="#2962ff"/><rect x="271" y="267" width="1" height="6" fill="#0d2f9e"/><rect x="275" y="264" width="1" height="17" fill="#5e35b1"/><rect x="274" y="266" width="3" height="4" fill="#5e35b1"/><rect x="275" y="267" width="1" height="2" fill="#fff"/><rect x="279" y="214" width="1" height="65" fill="#2962ff"/><rect x="278" y="215" width="3" height="54" fill="#2962ff"/><rect x="279" y="216" width="1" height="52" fill="#0d2f9e"/><rect x="283" y="208" width="1" height="26" fill="#5e35b1"/><rect x="282" y="216" width="3" height="9" fill="#5e35b1"/><rect x="283" y="217" width="1" height="7" fill="#fff"/><rect x="287" y="218" width="1" height="15" fill="#5e35b1"/><rect x="286" y="224" width="3" height="6" fill="#5e35b1"/><rect x="287" y="225" width="1" height="4" fill="#fff"/><rect x="292" y="227" width="1" height="6" fill="#5e35b1"/><rect x="291" y="228" width="3" height="2" fill="#5e35b1"/><rect x="296" y="229" width="1" height="11" fill="#5e35b1"/><rect x="295" y="229" width="3" height="2" fill="#5e35b1"/><rect x="300" y="225" width="1" height="16" fill="#5e35b1"/><rect x="299" y="229" width="3" height="6" fill="#5e35b1"/><rect x="300" y="230" width="1" height="4" fill="#fff"/><rect x="304" y="219" width="1" height="21" fill="#5e35b1"/><rect x="303" y="234" width="3" height="2" fill="#5e35b1"/><rect x="308" y="226" width="1" height="15" fill="#2962ff"/><rect x="307" y="231" width="3" height="4" fill="#2962ff"/><rect x="308" y="232" width="1" height="2" fill="#0d2f9e"/><rect x="313" y="229" width="1" height="20" fill="#5e35b1"/><rect x="312" y="230" width="3" height="17" fill="#5e35b1"/><rect x="313" y="231" width="1" height="15" fill="#fff"/><rect x="317" y="243" width="1" height="10" fill="#5e35b1"/><rect x="316" y="246" width="3" height="7" fill="#5e35b1"/><rect x="317" y="247" width="1" height="5" fill="#fff"/><rect x="321" y="250" width="1" height="4" fill="#5e35b1"/><rect x="320" y="252" width="3" height="2" fill="#5e35b1"/><rect x="325" y="259" width="1" height="15" fill="#5e35b1"/><rect x="324" y="260" width="3" height="13" fill="#5e35b1"/><rect x="325" y="261" width="1" height="11" fill="#fff"/><rect x="329" y="266" width="1" height="9" fill="#2962ff"/><rect x="328" y="268" width="3" height="4" fill="#2962ff"/><rect x="329" y="269" width="1" height="2" fill="#0d2f9e"/><rect x="334" y="259" width="1" height="20" fill="#5e35b1"/><rect x="333" y="267" width="3" height="5" fill="#5e35b1"/><rect x="334" y="268" width="1" height="3" fill="#fff"/><rect x="338" y="265" width="1" height="24" fill="#5e35b1"/><rect x="337" y="270" width="3" height="7" fill="#5e35b1"/><rect x="338" y="271" width="1" height="5" fill="#fff"/><rect x="342" y="277" width="1" height="11" fill="#5e35b1"/><rect x="341" y="277" width="3" height="11" fill="#5e35b1"/><rect x="342" y="278" width="1" height="9" fill="#fff"/><rect x="346" y="285" width="1" height="7" fill="#5e35b1"/><rect x="345" y="287" width="3" height="2" fill="#5e35b1"/><rect x="350" y="274" width="1" height="14" fill="#2962ff"/><rect x="349" y="275" width="3" height="8" fill="#2962ff"/><rect x="350" y="276" width="1" height="6" fill="#0d2f9e"/><rect x="355" y="263" width="1" height="17" fill="#2962ff"/><rect x="354" y="264" width="3" height="11" fill="#2962ff"/><rect x="355" y="265" width="1" height="9" fill="#0d2f9e"/><rect x="359" y="260" width="1" height="30" fill="#5e35b1"/><rect x="358" y="264" width="3" height="21" fill="#5e35b1"/><rect x="359" y="265" width="1" height="19" fill="#fff"/><rect x="363" y="260" width="1" height="32" fill="#2962ff"/><rect x="362" y="263" width="3" height="22" fill="#2962ff"/><rect x="363" y="264" width="1" height="20" fill="#0d2f9e"/><rect x="367" y="257" width="1" height="16" fill="#5e35b1"/><rect x="366" y="263" width="3" height="7" fill="#5e35b1"/><rect x="367" y="264" width="1" height="5" fill="#fff"/><rect x="371" y="266" width="1" height="5" fill="#5e35b1"/><rect x="370" y="269" width="3" height="2" fill="#5e35b1"/><rect x="376" y="258" width="1" height="14" fill="#2962ff"/><rect x="375" y="260" width="3" height="12" fill="#2962ff"/><rect x="376" y="261" width="1" height="10" fill="#0d2f9e"/><rect x="380" y="257" width="1" height="20" fill="#5e35b1"/><rect x="379" y="260" width="3" height="17" fill="#5e35b1"/><rect x="380" y="261" width="1" height="15" fill="#fff"/><rect x="384" y="265" width="1" height="30" fill="#5e35b1"/><rect x="383" y="275" width="3" height="17" fill="#5e35b1"/><rect x="384" y="276" width="1" height="15" fill="#fff"/><rect x="388" y="287" width="1" height="31" fill="#5e35b1"/><rect x="387" y="290" width="3" height="23" fill="#5e35b1"/><rect x="388" y="291" width="1" height="21" fill="#fff"/><rect x="392" y="301" width="1" height="12" fill="#2962ff"/><rect x="391" y="311" width="3" height="2" fill="#2962ff"/><rect x="396" y="307" width="1" height="6" fill="#2962ff"/><rect x="395" y="309" width="3" height="4" fill="#2962ff"/><rect x="396" y="310" width="1" height="2" fill="#0d2f9e"/><rect x="401" y="303" width="1" height="17" fill="#5e35b1"/><rect x="400" y="307" width="3" height="4" fill="#5e35b1"/><rect x="401" y="308" width="1" height="2" fill="#fff"/><rect x="405" y="297" width="1" height="15" fill="#2962ff"/><rect x="404" y="306" width="3" height="5" fill="#2962ff"/><rect x="405" y="307" width="1" height="3" fill="#0d2f9e"/><rect x="409" y="282" width="1" height="27" fill="#2962ff"/><rect x="408" y="282" width="3" height="23" fill="#2962ff"/><rect x="409" y="283" width="1" height="21" fill="#0d2f9e"/><rect x="413" y="279" width="1" height="29" fill="#5e35b1"/><rect x="412" y="282" width="3" height="4" fill="#5e35b1"/><rect x="413" y="283" width="1" height="2" fill="#fff"/><rect x="417" y="274" width="1" height="21" fill="#2962ff"/><rect x="416" y="281" width="3" height="4" fill="#2962ff"/><rect x="417" y="282" width="1" height="2" fill="#0d2f9e"/><rect x="422" y="270" width="1" height="11" fill="#2962ff"/><rect x="421" y="273" width="3" height="8" fill="#2962ff"/><rect x="422" y="274" width="1" height="6" fill="#0d2f9e"/><rect x="426" y="243" width="1" height="31" fill="#2962ff"/><rect x="425" y="255" width="3" height="19" fill="#2962ff"/><rect x="426" y="256" width="1" height="17" fill="#0d2f9e"/><rect x="430" y="235" width="1" height="23" fill="#2962ff"/><rect x="429" y="238" width="3" height="17" fill="#2962ff"/><rect x="430" y="239" width="1" height="15" fill="#0d2f9e"/><rect x="434" y="234" width="1" height="35" fill="#5e35b1"/><rect x="433" y="238" width="3" height="31" fill="#5e35b1"/><rect x="434" y="239" width="1" height="29" fill="#fff"/><rect x="438" y="268" width="1" height="29" fill="#5e35b1"/><rect x="437" y="268" width="3" height="21" fill="#5e35b1"/><rect x="438" y="269" width="1" height="19" fill="#fff"/><rect x="443" y="287" width="1" height="37" fill="#5e35b1"/><rect x="442" y="288" width="3" height="21" fill="#5e35b1"/><rect x="443" y="289" width="1" height="19" fill="#fff"/><rect x="447" y="303" width="1" height="20" fill="#5e35b1"/><rect x="446" y="309" width="3" height="10" fill="#5e35b1"/><rect x="447" y="310" width="1" height="8" fill="#fff"/><rect x="451" y="317" width="1" height="4" fill="#5e35b1"/><rect x="450" y="317" width="3" height="4" fill="#5e35b1"/><rect x="451" y="318" width="1" height="2" fill="#fff"/><rect x="455" y="306" width="1" height="18" fill="#2962ff"/><rect x="454" y="308" width="3" height="16" fill="#2962ff"/><rect x="455" y="309" width="1" height="14" fill="#0d2f9e"/><rect x="459" y="300" width="1" height="21" fill="#5e35b1"/><rect x="458" y="307" width="3" height="13" fill="#5e35b1"/><rect x="459" y="308" width="1" height="11" fill="#fff"/><rect x="464" y="316" width="1" height="26" fill="#5e35b1"/><rect x="463" y="318" width="3" height="15" fill="#5e35b1"/><rect x="464" y="319" width="1" height="13" fill="#fff"/><rect x="468" y="309" width="1" height="61" fill="#5e35b1"/><rect x="467" y="332" width="3" height="37" fill="#5e35b1"/><rect x="468" y="333" width="1" height="35" fill="#fff"/><rect x="472" y="353" width="1" height="14" fill="#2962ff"/><rect x="471" y="359" width="3" height="8" fill="#2962ff"/><rect x="472" y="360" width="1" height="6" fill="#0d2f9e"/><rect x="476" y="358" width="1" height="4" fill="#5e35b1"/><rect x="475" y="359" width="3" height="3" fill="#5e35b1"/><rect x="476" y="360" width="1" height="1" fill="#fff"/><rect x="480" y="361" width="1" height="11" fill="#2962ff"/><rect x="479" y="363" width="3" height="2" fill="#2962ff"/><rect x="485" y="356" width="1" height="8" fill="#2962ff"/><rect x="484" y="357" width="3" height="7" fill="#2962ff"/><rect x="485" y="358" width="1" height="5" fill="#0d2f9e"/><rect x="489" y="346" width="1" height="22" fill="#2962ff"/><rect x="488" y="351" width="3" height="7" fill="#2962ff"/><rect x="489" y="352" width="1" height="5" fill="#0d2f9e"/><rect x="493" y="331" width="1" height="43" fill="#2962ff"/><rect x="492" y="338" width="3" height="13" fill="#2962ff"/><rect x="493" y="339" width="1" height="11" fill="#0d2f9e"/><rect x="497" y="325" width="1" height="21" fill="#2962ff"/><rect x="496" y="337" width="3" height="2" fill="#2962ff"/><rect x="501" y="329" width="1" height="7" fill="#2962ff"/><rect x="500" y="334" width="3" height="2" fill="#2962ff"/><rect x="506" y="319" width="1" height="19" fill="#2962ff"/><rect x="505" y="321" width="3" height="17" fill="#2962ff"/><rect x="506" y="322" width="1" height="15" fill="#0d2f9e"/><rect x="510" y="321" width="1" height="10" fill="#5e35b1"/><rect x="509" y="321" width="3" height="9" fill="#5e35b1"/><rect x="510" y="322" width="1" height="7" fill="#fff"/><rect x="514" y="325" width="1" height="14" fill="#2962ff"/><rect x="513" y="327" width="3" height="2" fill="#2962ff"/><rect x="518" y="312" width="1" height="27" fill="#5e35b1"/><rect x="517" y="327" width="3" height="6" fill="#5e35b1"/><rect x="518" y="328" width="1" height="4" fill="#fff"/><rect x="522" y="331" width="1" height="14" fill="#5e35b1"/><rect x="521" y="333" width="3" height="7" fill="#5e35b1"/><rect x="522" y="334" width="1" height="5" fill="#fff"/><rect x="527" y="329" width="1" height="11" fill="#2962ff"/><rect x="526" y="331" width="3" height="9" fill="#2962ff"/><rect x="527" y="332" width="1" height="7" fill="#0d2f9e"/><rect x="531" y="328" width="1" height="5" fill="#5e35b1"/><rect x="530" y="329" width="3" height="4" fill="#5e35b1"/><rect x="531" y="330" width="1" height="2" fill="#fff"/><rect x="535" y="328" width="1" height="5" fill="#2962ff"/><rect x="534" y="330" width="3" height="3" fill="#2962ff"/><rect x="535" y="331" width="1" height="1" fill="#0d2f9e"/><rect x="539" y="325" width="1" height="9" fill="#5e35b1"/><rect x="538" y="329" width="3" height="5" fill="#5e35b1"/><rect x="539" y="330" width="1" height="3" fill="#fff"/><rect x="543" y="299" width="1" height="34" fill="#2962ff"/><rect x="542" y="324" width="3" height="9" fill="#2962ff"/><rect x="543" y="325" width="1" height="7" fill="#0d2f9e"/><rect x="547" y="314" width="1" height="10" fill="#2962ff"/><rect x="546" y="316" width="3" height="8" fill="#2962ff"/><rect x="547" y="317" width="1" height="6" fill="#0d2f9e"/><rect x="552" y="314" width="1" height="5" fill="#2962ff"/><rect x="551" y="315" width="3" height="2" fill="#2962ff"/><rect x="556" y="310" width="1" height="13" fill="#2962ff"/><rect x="555" y="311" width="3" height="5" fill="#2962ff"/><rect x="556" y="312" width="1" height="3" fill="#0d2f9e"/><rect x="560" y="304" width="1" height="10" fill="#2962ff"/><rect x="559" y="306" width="3" height="6" fill="#2962ff"/><rect x="560" y="307" width="1" height="4" fill="#0d2f9e"/><rect x="564" y="302" width="1" height="22" fill="#5e35b1"/><rect x="563" y="305" width="3" height="17" fill="#5e35b1"/><rect x="564" y="306" width="1" height="15" fill="#fff"/><rect x="568" y="268" width="1" height="56" fill="#2962ff"/><rect x="567" y="268" width="3" height="54" fill="#2962ff"/><rect x="568" y="269" width="1" height="52" fill="#0d2f9e"/><rect x="573" y="255" width="1" height="19" fill="#2962ff"/><rect x="572" y="267" width="3" height="2" fill="#2962ff"/><rect x="577" y="267" width="1" height="11" fill="#5e35b1"/><rect x="576" y="267" width="3" height="11" fill="#5e35b1"/><rect x="577" y="268" width="1" height="9" fill="#fff"/><rect x="581" y="277" width="1" height="2" fill="#5e35b1"/><rect x="580" y="276" width="3" height="2" fill="#5e35b1"/><rect x="585" y="280" width="1" height="15" fill="#5e35b1"/><rect x="584" y="280" width="3" height="14" fill="#5e35b1"/><rect x="585" y="281" width="1" height="12" fill="#fff"/><rect x="589" y="291" width="1" height="11" fill="#5e35b1"/><rect x="588" y="293" width="3" height="2" fill="#5e35b1"/><rect x="594" y="294" width="1" height="29" fill="#5e35b1"/><rect x="593" y="294" width="3" height="28" fill="#5e35b1"/><rect x="594" y="295" width="1" height="26" fill="#fff"/><rect x="598" y="305" width="1" height="17" fill="#2962ff"/><rect x="597" y="311" width="3" height="11" fill="#2962ff"/><rect x="598" y="312" width="1" height="9" fill="#0d2f9e"/><rect x="602" y="298" width="1" height="15" fill="#2962ff"/><rect x="601" y="307" width="3" height="4" fill="#2962ff"/><rect x="602" y="308" width="1" height="2" fill="#0d2f9e"/><rect x="606" y="306" width="1" height="7" fill="#5e35b1"/><rect x="605" y="306" width="3" height="7" fill="#5e35b1"/><rect x="606" y="307" width="1" height="5" fill="#fff"/><rect x="610" y="311" width="1" height="10" fill="#2962ff"/><rect x="609" y="313" width="3" height="2" fill="#2962ff"/><rect x="615" y="310" width="1" height="15" fill="#5e35b1"/><rect x="614" y="312" width="3" height="9" fill="#5e35b1"/><rect x="615" y="313" width="1" height="7" fill="#fff"/><rect x="619" y="312" width="1" height="13" fill="#2962ff"/><rect x="618" y="317" width="3" height="4" fill="#2962ff"/><rect x="619" y="318" width="1" height="2" fill="#0d2f9e"/><rect x="623" y="313" width="1" height="58" fill="#5e35b1"/><rect x="622" y="317" width="3" height="36" fill="#5e35b1"/><rect x="623" y="318" width="1" height="34" fill="#fff"/><rect x="627" y="348" width="1" height="22" fill="#5e35b1"/><rect x="626" y="353" width="3" height="15" fill="#5e35b1"/><rect x="627" y="354" width="1" height="13" fill="#fff"/><rect x="631" y="360" width="1" height="8" fill="#2962ff"/><rect x="630" y="364" width="3" height="3" fill="#2962ff"/><rect x="631" y="365" width="1" height="1" fill="#0d2f9e"/><rect x="636" y="362" width="1" height="9" fill="#2962ff"/><rect x="635" y="365" width="3" height="4" fill="#2962ff"/><rect x="636" y="366" width="1" height="2" fill="#0d2f9e"/><rect x="640" y="358" width="1" height="8" fill="#2962ff"/><rect x="639" y="360" width="3" height="6" fill="#2962ff"/><rect x="640" y="361" width="1" height="4" fill="#0d2f9e"/><rect x="644" y="360" width="1" height="32" fill="#5e35b1"/><rect x="643" y="360" width="3" height="21" fill="#5e35b1"/><rect x="644" y="361" width="1" height="19" fill="#fff"/><rect x="648" y="375" width="1" height="47" fill="#5e35b1"/><rect x="647" y="380" width="3" height="27" fill="#5e35b1"/><rect x="648" y="381" width="1" height="25" fill="#fff"/><rect x="652" y="405" width="1" height="14" fill="#5e35b1"/><rect x="651" y="406" width="3" height="3" fill="#5e35b1"/><rect x="652" y="407" width="1" height="1" fill="#fff"/><rect x="657" y="406" width="1" height="4" fill="#5e35b1"/><rect x="656" y="408" width="3" height="2" fill="#5e35b1"/><rect x="661" y="409" width="1" height="18" fill="#5e35b1"/><rect x="660" y="409" width="3" height="16" fill="#5e35b1"/><rect x="661" y="410" width="1" height="14" fill="#fff"/><rect x="665" y="417" width="1" height="10" fill="#2962ff"/><rect x="664" y="421" width="3" height="4" fill="#2962ff"/><rect x="665" y="422" width="1" height="2" fill="#0d2f9e"/><rect x="669" y="413" width="1" height="10" fill="#2962ff"/><rect x="668" y="416" width="3" height="5" fill="#2962ff"/><rect x="669" y="417" width="1" height="3" fill="#0d2f9e"/><rect x="673" y="365" width="1" height="59" fill="#2962ff"/><rect x="672" y="371" width="3" height="46" fill="#2962ff"/><rect x="673" y="372" width="1" height="44" fill="#0d2f9e"/><rect x="678" y="345" width="1" height="28" fill="#2962ff"/><rect x="677" y="362" width="3" height="8" fill="#2962ff"/><rect x="678" y="363" width="1" height="6" fill="#0d2f9e"/><rect x="682" y="358" width="1" height="4" fill="#2962ff"/><rect x="681" y="360" width="3" height="2" fill="#2962ff"/><rect x="686" y="346" width="1" height="15" fill="#2962ff"/><rect x="685" y="346" width="3" height="15" fill="#2962ff"/><rect x="686" y="347" width="1" height="13" fill="#0d2f9e"/><rect x="690" y="338" width="1" height="15" fill="#5e35b1"/><rect x="689" y="346" width="3" height="7" fill="#5e35b1"/><rect x="690" y="347" width="1" height="5" fill="#fff"/><rect x="694" y="340" width="1" height="24" fill="#2962ff"/><rect x="693" y="341" width="3" height="12" fill="#2962ff"/><rect x="694" y="342" width="1" height="10" fill="#0d2f9e"/><rect x="698" y="336" width="1" height="22" fill="#2962ff"/><rect x="697" y="336" width="3" height="5" fill="#2962ff"/><rect x="698" y="337" width="1" height="3" fill="#0d2f9e"/><rect x="703" y="304" width="1" height="35" fill="#2962ff"/><rect x="702" y="305" width="3" height="31" fill="#2962ff"/><rect x="703" y="306" width="1" height="29" fill="#0d2f9e"/><rect x="707" y="305" width="1" height="13" fill="#5e35b1"/><rect x="706" y="305" width="3" height="11" fill="#5e35b1"/><rect x="707" y="306" width="1" height="9" fill="#fff"/><rect x="711" y="315" width="1" height="1" fill="#5e35b1"/><rect x="710" y="315" width="3" height="2" fill="#5e35b1"/><rect x="715" y="312" width="1" height="8" fill="#5e35b1"/><rect x="714" y="315" width="3" height="5" fill="#5e35b1"/><rect x="715" y="316" width="1" height="3" fill="#fff"/><rect x="719" y="319" width="1" height="15" fill="#5e35b1"/><rect x="718" y="320" width="3" height="13" fill="#5e35b1"/><rect x="719" y="321" width="1" height="11" fill="#fff"/><rect x="724" y="330" width="1" height="25" fill="#5e35b1"/><rect x="723" y="331" width="3" height="21" fill="#5e35b1"/><rect x="724" y="332" width="1" height="19" fill="#fff"/><rect x="728" y="329" width="1" height="25" fill="#2962ff"/><rect x="727" y="343" width="3" height="9" fill="#2962ff"/><rect x="728" y="344" width="1" height="7" fill="#0d2f9e"/><rect x="732" y="336" width="1" height="11" fill="#5e35b1"/><rect x="731" y="343" width="3" height="4" fill="#5e35b1"/><rect x="732" y="344" width="1" height="2" fill="#fff"/><rect x="736" y="344" width="1" height="4" fill="#5e35b1"/><rect x="735" y="345" width="3" height="3" fill="#5e35b1"/><rect x="736" y="346" width="1" height="1" fill="#fff"/><rect x="740" y="338" width="1" height="15" fill="#2962ff"/><rect x="739" y="343" width="3" height="7" fill="#2962ff"/><rect x="740" y="344" width="1" height="5" fill="#0d2f9e"/><rect x="745" y="324" width="1" height="21" fill="#2962ff"/><rect x="744" y="335" width="3" height="9" fill="#2962ff"/><rect x="745" y="336" width="1" height="7" fill="#0d2f9e"/><rect x="749" y="309" width="1" height="36" fill="#2962ff"/><rect x="748" y="316" width="3" height="18" fill="#2962ff"/><rect x="749" y="317" width="1" height="16" fill="#0d2f9e"/><rect x="753" y="304" width="1" height="43" fill="#5e35b1"/><rect x="752" y="316" width="3" height="16" fill="#5e35b1"/><rect x="753" y="317" width="1" height="14" fill="#fff"/><rect x="757" y="326" width="1" height="9" fill="#2962ff"/><rect x="756" y="327" width="3" height="5" fill="#2962ff"/><rect x="757" y="328" width="1" height="3" fill="#0d2f9e"/><rect x="761" y="325" width="1" height="6" fill="#5e35b1"/><rect x="760" y="326" width="3" height="3" fill="#5e35b1"/><rect x="761" y="327" width="1" height="1" fill="#fff"/><rect x="766" y="321" width="1" height="8" fill="#5e35b1"/><rect x="765" y="324" width="3" height="2" fill="#5e35b1"/><rect x="770" y="324" width="1" height="16" fill="#5e35b1"/><rect x="769" y="325" width="3" height="13" fill="#5e35b1"/><rect x="770" y="326" width="1" height="11" fill="#fff"/><rect x="774" y="325" width="1" height="18" fill="#5e35b1"/><rect x="773" y="336" width="3" height="4" fill="#5e35b1"/><rect x="774" y="337" width="1" height="2" fill="#fff"/><rect x="778" y="313" width="1" height="42" fill="#5e35b1"/><rect x="777" y="338" width="3" height="13" fill="#5e35b1"/><rect x="778" y="339" width="1" height="11" fill="#fff"/><rect x="782" y="334" width="1" height="17" fill="#2962ff"/><rect x="781" y="338" width="3" height="13" fill="#2962ff"/><rect x="782" y="339" width="1" height="11" fill="#0d2f9e"/><rect x="787" y="332" width="1" height="9" fill="#5e35b1"/><rect x="786" y="337" width="3" height="4" fill="#5e35b1"/><rect x="787" y="338" width="1" height="2" fill="#fff"/><rect x="791" y="338" width="1" height="7" fill="#2962ff"/><rect x="790" y="340" width="3" height="2" fill="#2962ff"/><rect x="795" y="322" width="1" height="20" fill="#2962ff"/><rect x="794" y="324" width="3" height="17" fill="#2962ff"/><rect x="795" y="325" width="1" height="15" fill="#0d2f9e"/><rect x="799" y="317" width="1" height="22" fill="#5e35b1"/><rect x="798" y="324" width="3" height="11" fill="#5e35b1"/><rect x="799" y="325" width="1" height="9" fill="#fff"/><rect x="803" y="314" width="1" height="40" fill="#2962ff"/><rect x="802" y="333" width="3" height="2" fill="#2962ff"/><rect x="808" y="334" width="1" height="13" fill="#5e35b1"/><rect x="807" y="334" width="3" height="5" fill="#5e35b1"/><rect x="808" y="335" width="1" height="3" fill="#fff"/><rect x="812" y="338" width="1" height="12" fill="#5e35b1"/><rect x="811" y="339" width="3" height="8" fill="#5e35b1"/><rect x="812" y="340" width="1" height="6" fill="#fff"/><rect x="816" y="345" width="1" height="7" fill="#5e35b1"/><rect x="815" y="347" width="3" height="5" fill="#5e35b1"/><rect x="816" y="348" width="1" height="3" fill="#fff"/><rect x="820" y="339" width="1" height="13" fill="#2962ff"/><rect x="819" y="340" width="3" height="12" fill="#2962ff"/><rect x="820" y="341" width="1" height="10" fill="#0d2f9e"/><rect x="824" y="332" width="1" height="25" fill="#5e35b1"/><rect x="823" y="340" width="3" height="17" fill="#5e35b1"/><rect x="824" y="341" width="1" height="15" fill="#fff"/><rect x="829" y="347" width="1" height="17" fill="#5e35b1"/><rect x="828" y="357" width="3" height="7" fill="#5e35b1"/><rect x="829" y="358" width="1" height="5" fill="#fff"/><rect x="833" y="355" width="1" height="16" fill="#5e35b1"/><rect x="832" y="364" width="3" height="7" fill="#5e35b1"/><rect x="833" y="365" width="1" height="5" fill="#fff"/><rect x="837" y="371" width="1" height="10" fill="#5e35b1"/><rect x="836" y="371" width="3" height="10" fill="#5e35b1"/><rect x="837" y="372" width="1" height="8" fill="#fff"/><rect x="841" y="380" width="1" height="3" fill="#5e35b1"/><rect x="840" y="380" width="3" height="3" fill="#5e35b1"/><rect x="841" y="381" width="1" height="1" fill="#fff"/><rect x="845" y="381" width="1" height="11" fill="#2962ff"/><rect x="844" y="383" width="3" height="5" fill="#2962ff"/><rect x="845" y="384" width="1" height="3" fill="#0d2f9e"/><rect x="849" y="377" width="1" height="9" fill="#2962ff"/><rect x="848" y="380" width="3" height="4" fill="#2962ff"/><rect x="849" y="381" width="1" height="2" fill="#0d2f9e"/><rect x="854" y="363" width="1" height="17" fill="#2962ff"/><rect x="853" y="364" width="3" height="16" fill="#2962ff"/><rect x="854" y="365" width="1" height="14" fill="#0d2f9e"/><rect x="858" y="336" width="1" height="31" fill="#2962ff"/><rect x="857" y="336" width="3" height="28" fill="#2962ff"/><rect x="858" y="337" width="1" height="26" fill="#0d2f9e"/><rect x="862" y="328" width="1" height="14" fill="#2962ff"/><rect x="861" y="335" width="3" height="2" fill="#2962ff"/><rect x="866" y="333" width="1" height="6" fill="#5e35b1"/><rect x="865" y="335" width="3" height="3" fill="#5e35b1"/><rect x="866" y="336" width="1" height="1" fill="#fff"/><rect x="870" y="333" width="1" height="8" fill="#5e35b1"/><rect x="869" y="339" width="3" height="2" fill="#5e35b1"/><rect x="875" y="337" width="1" height="22" fill="#5e35b1"/><rect x="874" y="340" width="3" height="17" fill="#5e35b1"/><rect x="875" y="341" width="1" height="15" fill="#fff"/><rect x="879" y="355" width="1" height="33" fill="#5e35b1"/><rect x="878" y="356" width="3" height="24" fill="#5e35b1"/><rect x="879" y="357" width="1" height="22" fill="#fff"/><rect x="883" y="370" width="1" height="38" fill="#2962ff"/><rect x="882" y="377" width="3" height="2" fill="#2962ff"/><rect x="887" y="364" width="1" height="20" fill="#2962ff"/><rect x="886" y="369" width="3" height="8" fill="#2962ff"/><rect x="887" y="370" width="1" height="6" fill="#0d2f9e"/><rect x="891" y="366" width="1" height="6" fill="#5e35b1"/><rect x="890" y="369" width="3" height="3" fill="#5e35b1"/><rect x="891" y="370" width="1" height="1" fill="#fff"/><rect x="896" y="370" width="1" height="10" fill="#5e35b1"/><rect x="895" y="375" width="3" height="5" fill="#5e35b1"/><rect x="896" y="376" width="1" height="3" fill="#fff"/><rect x="900" y="376" width="1" height="9" fill="#5e35b1"/><rect x="899" y="379" width="3" height="2" fill="#5e35b1"/><rect x="904" y="365" width="1" height="16" fill="#2962ff"/><rect x="903" y="375" width="3" height="6" fill="#2962ff"/><rect x="904" y="376" width="1" height="4" fill="#0d2f9e"/><rect x="908" y="341" width="1" height="42" fill="#2962ff"/><rect x="907" y="354" width="3" height="20" fill="#2962ff"/><rect x="908" y="355" width="1" height="18" fill="#0d2f9e"/><rect x="912" y="352" width="1" height="14" fill="#5e35b1"/><rect x="911" y="354" width="3" height="12" fill="#5e35b1"/><rect x="912" y="355" width="1" height="10" fill="#fff"/><rect x="917" y="365" width="1" height="4" fill="#5e35b1"/><rect x="916" y="366" width="3" height="3" fill="#5e35b1"/><rect x="917" y="367" width="1" height="1" fill="#fff"/><rect x="921" y="360" width="1" height="13" fill="#2962ff"/><rect x="920" y="360" width="3" height="10" fill="#2962ff"/><rect x="921" y="361" width="1" height="8" fill="#0d2f9e"/><rect x="925" y="338" width="1" height="29" fill="#2962ff"/><rect x="924" y="349" width="3" height="12" fill="#2962ff"/><rect x="925" y="350" width="1" height="10" fill="#0d2f9e"/><rect x="929" y="318" width="1" height="32" fill="#2962ff"/><rect x="928" y="321" width="3" height="29" fill="#2962ff"/><rect x="929" y="322" width="1" height="27" fill="#0d2f9e"/><rect x="933" y="309" width="1" height="56" fill="#5e35b1"/><rect x="932" y="320" width="3" height="44" fill="#5e35b1"/><rect x="933" y="321" width="1" height="42" fill="#fff"/><rect x="938" y="351" width="1" height="18" fill="#2962ff"/><rect x="937" y="353" width="3" height="10" fill="#2962ff"/><rect x="938" y="354" width="1" height="8" fill="#0d2f9e"/><rect x="942" y="351" width="1" height="4" fill="#2962ff"/><rect x="941" y="352" width="3" height="2" fill="#2962ff"/><rect x="946" y="341" width="1" height="13" fill="#2962ff"/><rect x="945" y="342" width="3" height="11" fill="#2962ff"/><rect x="946" y="343" width="1" height="9" fill="#0d2f9e"/><rect x="950" y="338" width="1" height="8" fill="#2962ff"/><rect x="949" y="341" width="3" height="2" fill="#2962ff"/><rect x="954" y="330" width="1" height="12" fill="#2962ff"/><rect x="953" y="330" width="3" height="12" fill="#2962ff"/><rect x="954" y="331" width="1" height="10" fill="#0d2f9e"/><rect x="959" y="328" width="1" height="26" fill="#5e35b1"/><rect x="958" y="330" width="3" height="24" fill="#5e35b1"/><rect x="959" y="331" width="1" height="22" fill="#fff"/><rect x="963" y="308" width="1" height="48" fill="#2962ff"/><rect x="962" y="311" width="3" height="44" fill="#2962ff"/><rect x="963" y="312" width="1" height="42" fill="#0d2f9e"/><rect x="967" y="308" width="1" height="7" fill="#5e35b1"/><rect x="966" y="311" width="3" height="4" fill="#5e35b1"/><rect x="967" y="312" width="1" height="2" fill="#fff"/><rect x="971" y="313" width="1" height="2" fill="#5e35b1"/><rect x="970" y="313" width="3" height="2" fill="#5e35b1"/><rect x="975" y="309" width="1" height="18" fill="#5e35b1"/><rect x="974" y="312" width="3" height="11" fill="#5e35b1"/><rect x="975" y="313" width="1" height="9" fill="#fff"/><rect x="980" y="315" width="1" height="9" fill="#5e35b1"/><rect x="979" y="322" width="3" height="2" fill="#5e35b1"/><rect x="984" y="297" width="1" height="34" fill="#2962ff"/><rect x="983" y="302" width="3" height="22" fill="#2962ff"/><rect x="984" y="303" width="1" height="20" fill="#0d2f9e"/><rect x="988" y="289" width="1" height="38" fill="#5e35b1"/><rect x="987" y="301" width="3" height="18" fill="#5e35b1"/><rect x="988" y="302" width="1" height="16" fill="#fff"/><rect x="992" y="316" width="1" height="15" fill="#5e35b1"/><rect x="991" y="317" width="3" height="10" fill="#5e35b1"/><rect x="992" y="318" width="1" height="8" fill="#fff"/><rect x="996" y="327" width="1" height="7" fill="#5e35b1"/><rect x="995" y="327" width="3" height="3" fill="#5e35b1"/><rect x="996" y="328" width="1" height="1" fill="#fff"/><rect x="1000" y="330" width="1" height="19" fill="#5e35b1"/><rect x="999" y="336" width="3" height="13" fill="#5e35b1"/><rect x="1000" y="337" width="1" height="11" fill="#fff"/><rect x="1005" y="342" width="1" height="12" fill="#5e35b1"/><rect x="1004" y="348" width="3" height="6" fill="#5e35b1"/><rect x="1005" y="349" width="1" height="4" fill="#fff"/><rect x="1009" y="352" width="1" height="14" fill="#5e35b1"/><rect x="1008" y="354" width="3" height="4" fill="#5e35b1"/><rect x="1009" y="355" width="1" height="2" fill="#fff"/><rect x="1013" y="352" width="1" height="25" fill="#5e35b1"/><rect x="1012" y="357" width="3" height="18" fill="#5e35b1"/><rect x="1013" y="358" width="1" height="16" fill="#fff"/><rect x="1017" y="364" width="1" height="39" fill="#5e35b1"/><rect x="1016" y="373" width="3" height="8" fill="#5e35b1"/><rect x="1017" y="374" width="1" height="6" fill="#fff"/><rect x="1021" y="365" width="1" height="27" fill="#5e35b1"/><rect x="1020" y="380" width="3" height="11" fill="#5e35b1"/><rect x="1021" y="381" width="1" height="9" fill="#fff"/><rect x="1026" y="390" width="1" height="13" fill="#5e35b1"/><rect x="1025" y="392" width="3" height="11" fill="#5e35b1"/><rect x="1026" y="393" width="1" height="9" fill="#fff"/><rect x="1030" y="395" width="1" height="12" fill="#2962ff"/><rect x="1029" y="396" width="3" height="7" fill="#2962ff"/><rect x="1030" y="397" width="1" height="5" fill="#0d2f9e"/><rect x="1034" y="372" width="1" height="26" fill="#2962ff"/><rect x="1033" y="387" width="3" height="10" fill="#2962ff"/><rect x="1034" y="388" width="1" height="8" fill="#0d2f9e"/><rect x="1038" y="355" width="1" height="45" fill="#2962ff"/><rect x="1037" y="366" width="3" height="21" fill="#2962ff"/><rect x="1038" y="367" width="1" height="19" fill="#0d2f9e"/><rect x="1042" y="361" width="1" height="28" fill="#5e35b1"/><rect x="1041" y="365" width="3" height="10" fill="#5e35b1"/><rect x="1042" y="366" width="1" height="8" fill="#fff"/><rect x="1047" y="371" width="1" height="7" fill="#2962ff"/><rect x="1046" y="371" width="3" height="4" fill="#2962ff"/><rect x="1047" y="372" width="1" height="2" fill="#0d2f9e"/><rect x="1051" y="377" width="1" height="13" fill="#5e35b1"/><rect x="1050" y="380" width="3" height="6" fill="#5e35b1"/><rect x="1051" y="381" width="1" height="4" fill="#fff"/><rect x="1055" y="386" width="1" height="12" fill="#5e35b1"/><rect x="1054" y="386" width="3" height="12" fill="#5e35b1"/><rect x="1055" y="387" width="1" height="10" fill="#fff"/><rect x="1059" y="380" width="1" height="18" fill="#2962ff"/><rect x="1058" y="386" width="3" height="12" fill="#2962ff"/><rect x="1059" y="387" width="1" height="10" fill="#0d2f9e"/><rect x="1063" y="343" width="1" height="43" fill="#2962ff"/><rect x="1062" y="374" width="3" height="11" fill="#2962ff"/><rect x="1063" y="375" width="1" height="9" fill="#0d2f9e"/><rect x="1068" y="373" width="1" height="22" fill="#5e35b1"/><rect x="1067" y="374" width="3" height="18" fill="#5e35b1"/><rect x="1068" y="375" width="1" height="16" fill="#fff"/><rect x="1072" y="384" width="1" height="8" fill="#2962ff"/><rect x="1071" y="385" width="3" height="7" fill="#2962ff"/><rect x="1072" y="386" width="1" height="5" fill="#0d2f9e"/><rect x="1076" y="380" width="1" height="7" fill="#5e35b1"/><rect x="1075" y="385" width="3" height="2" fill="#5e35b1"/><rect x="1080" y="383" width="1" height="19" fill="#5e35b1"/><rect x="1079" y="387" width="3" height="15" fill="#5e35b1"/><rect x="1080" y="388" width="1" height="13" fill="#fff"/><rect x="1084" y="395" width="1" height="10" fill="#2962ff"/><rect x="1083" y="395" width="3" height="7" fill="#2962ff"/><rect x="1084" y="396" width="1" height="5" fill="#0d2f9e"/><rect x="1089" y="388" width="1" height="18" fill="#5e35b1"/><rect x="1088" y="395" width="3" height="3" fill="#5e35b1"/><rect x="1089" y="396" width="1" height="1" fill="#fff"/><rect x="1093" y="383" width="1" height="20" fill="#2962ff"/><rect x="1092" y="395" width="3" height="3" fill="#2962ff"/><rect x="1093" y="396" width="1" height="1" fill="#0d2f9e"/><rect x="1097" y="374" width="1" height="20" fill="#2962ff"/><rect x="1096" y="376" width="3" height="18" fill="#2962ff"/><rect x="1097" y="377" width="1" height="16" fill="#0d2f9e"/><rect x="1101" y="375" width="1" height="2" fill="#5e35b1"/><rect x="1100" y="375" width="3" height="2" fill="#5e35b1"/><rect x="1105" y="364" width="1" height="12" fill="#2962ff"/><rect x="1104" y="370" width="3" height="6" fill="#2962ff"/><rect x="1105" y="371" width="1" height="4" fill="#0d2f9e"/><rect x="1110" y="368" width="1" height="11" fill="#5e35b1"/><rect x="1109" y="370" width="3" height="6" fill="#5e35b1"/><rect x="1110" y="371" width="1" height="4" fill="#fff"/><rect x="1114" y="360" width="1" height="17" fill="#2962ff"/><rect x="1113" y="367" width="3" height="9" fill="#2962ff"/><rect x="1114" y="368" width="1" height="7" fill="#0d2f9e"/><rect x="1118" y="338" width="1" height="30" fill="#2962ff"/><rect x="1117" y="351" width="3" height="16" fill="#2962ff"/><rect x="1118" y="352" width="1" height="14" fill="#0d2f9e"/><rect x="1122" y="346" width="1" height="15" fill="#5e35b1"/><rect x="1121" y="351" width="3" height="8" fill="#5e35b1"/><rect x="1122" y="352" width="1" height="6" fill="#fff"/><rect x="1126" y="351" width="1" height="8" fill="#2962ff"/><rect x="1125" y="353" width="3" height="5" fill="#2962ff"/><rect x="1126" y="354" width="1" height="3" fill="#0d2f9e"/><rect x="1131" y="356" width="1" height="7" fill="#5e35b1"/><rect x="1130" y="357" width="3" height="5" fill="#5e35b1"/><rect x="1131" y="358" width="1" height="3" fill="#fff"/><rect x="1135" y="352" width="1" height="10" fill="#2962ff"/><rect x="1134" y="357" width="3" height="5" fill="#2962ff"/><rect x="1135" y="358" width="1" height="3" fill="#0d2f9e"/><rect x="1139" y="345" width="1" height="20" fill="#2962ff"/><rect x="1138" y="349" width="3" height="9" fill="#2962ff"/><rect x="1139" y="350" width="1" height="7" fill="#0d2f9e"/><rect x="1143" y="340" width="1" height="50" fill="#5e35b1"/><rect x="1142" y="349" width="3" height="18" fill="#5e35b1"/><rect x="1143" y="350" width="1" height="16" fill="#fff"/><rect x="1147" y="358" width="1" height="15" fill="#5e35b1"/><rect x="1146" y="367" width="3" height="3" fill="#5e35b1"/><rect x="1147" y="368" width="1" height="1" fill="#fff"/><rect x="1151" y="368" width="1" height="7" fill="#5e35b1"/><rect x="1150" y="368" width="3" height="7" fill="#5e35b1"/><rect x="1151" y="369" width="1" height="5" fill="#fff"/><rect x="1156" y="369" width="1" height="13" fill="#2962ff"/><rect x="1155" y="371" width="3" height="4" fill="#2962ff"/><rect x="1156" y="372" width="1" height="2" fill="#0d2f9e"/><rect x="1160" y="339" width="1" height="32" fill="#2962ff"/><rect x="1159" y="339" width="3" height="32" fill="#2962ff"/><rect x="1160" y="340" width="1" height="30" fill="#0d2f9e"/><rect x="1164" y="329" width="1" height="14" fill="#2962ff"/><rect x="1163" y="334" width="3" height="6" fill="#2962ff"/><rect x="1164" y="335" width="1" height="4" fill="#0d2f9e"/><rect x="1168" y="311" width="1" height="43" fill="#2962ff"/><rect x="1167" y="321" width="3" height="12" fill="#2962ff"/><rect x="1168" y="322" width="1" height="10" fill="#0d2f9e"/><rect x="1172" y="314" width="1" height="12" fill="#2962ff"/><rect x="1171" y="319" width="3" height="3" fill="#2962ff"/><rect x="1172" y="320" width="1" height="1" fill="#0d2f9e"/><rect x="1177" y="316" width="1" height="5" fill="#2962ff"/><rect x="1176" y="318" width="3" height="2" fill="#2962ff"/><rect x="1181" y="315" width="1" height="9" fill="#5e35b1"/><rect x="1180" y="316" width="3" height="3" fill="#5e35b1"/><rect x="1181" y="317" width="1" height="1" fill="#fff"/><rect x="1185" y="316" width="1" height="12" fill="#5e35b1"/><rect x="1184" y="318" width="3" height="7" fill="#5e35b1"/><rect x="1185" y="319" width="1" height="5" fill="#fff"/><rect x="1189" y="311" width="1" height="18" fill="#2962ff"/><rect x="1188" y="315" width="3" height="9" fill="#2962ff"/><rect x="1189" y="316" width="1" height="7" fill="#0d2f9e"/><rect x="1193" y="278" width="1" height="37" fill="#2962ff"/><rect x="1192" y="278" width="3" height="37" fill="#2962ff"/><rect x="1193" y="279" width="1" height="35" fill="#0d2f9e"/><rect x="1198" y="263" width="1" height="17" fill="#2962ff"/><rect x="1197" y="266" width="3" height="13" fill="#2962ff"/><rect x="1198" y="267" width="1" height="11" fill="#0d2f9e"/><rect x="1202" y="263" width="1" height="3" fill="#2962ff"/><rect x="1201" y="264" width="3" height="2" fill="#2962ff"/><rect x="1206" y="261" width="1" height="7" fill="#5e35b1"/><rect x="1205" y="263" width="3" height="2" fill="#5e35b1"/><rect x="1210" y="264" width="1" height="9" fill="#5e35b1"/><rect x="1209" y="264" width="3" height="7" fill="#5e35b1"/><rect x="1210" y="265" width="1" height="5" fill="#fff"/><rect x="1214" y="268" width="1" height="14" fill="#5e35b1"/><rect x="1213" y="270" width="3" height="5" fill="#5e35b1"/><rect x="1214" y="271" width="1" height="3" fill="#fff"/><rect x="1219" y="268" width="1" height="23" fill="#5e35b1"/><rect x="1218" y="275" width="3" height="10" fill="#5e35b1"/><rect x="1219" y="276" width="1" height="8" fill="#fff"/><rect x="1223" y="277" width="1" height="13" fill="#5e35b1"/><rect x="1222" y="285" width="3" height="5" fill="#5e35b1"/><rect x="1223" y="286" width="1" height="3" fill="#fff"/><rect x="1227" y="287" width="1" height="3" fill="#2962ff"/><rect x="1226" y="287" width="3" height="3" fill="#2962ff"/><rect x="1227" y="288" width="1" height="1" fill="#0d2f9e"/><rect x="1231" y="287" width="1" height="2" fill="#5e35b1"/><rect x="1230" y="287" width="3" height="2" fill="#5e35b1"/><rect x="1235" y="282" width="1" height="11" fill="#5e35b1"/><rect x="1234" y="287" width="3" height="6" fill="#5e35b1"/><rect x="1235" y="288" width="1" height="4" fill="#fff"/><rect x="1240" y="275" width="1" height="17" fill="#2962ff"/><rect x="1239" y="284" width="3" height="8" fill="#2962ff"/><rect x="1240" y="285" width="1" height="6" fill="#0d2f9e"/><rect x="1244" y="283" width="1" height="23" fill="#5e35b1"/><rect x="1243" y="284" width="3" height="16" fill="#5e35b1"/><rect x="1244" y="285" width="1" height="14" fill="#fff"/><rect x="1248" y="273" width="1" height="29" fill="#2962ff"/><rect x="1247" y="275" width="3" height="26" fill="#2962ff"/><rect x="1248" y="276" width="1" height="24" fill="#0d2f9e"/><rect x="1252" y="266" width="1" height="12" fill="#5e35b1"/><rect x="1251" y="275" width="3" height="2" fill="#5e35b1"/><rect x="1256" y="269" width="1" height="9" fill="#2962ff"/><rect x="1255" y="273" width="3" height="3" fill="#2962ff"/><rect x="1256" y="274" width="1" height="1" fill="#0d2f9e"/><rect x="1261" y="271" width="1" height="7" fill="#5e35b1"/><rect x="1260" y="273" width="3" height="4" fill="#5e35b1"/><rect x="1261" y="274" width="1" height="2" fill="#fff"/><rect x="1265" y="257" width="1" height="19" fill="#2962ff"/><rect x="1264" y="260" width="3" height="16" fill="#2962ff"/><rect x="1265" y="261" width="1" height="14" fill="#0d2f9e"/><rect x="1269" y="239" width="1" height="28" fill="#2962ff"/><rect x="1268" y="245" width="3" height="16" fill="#2962ff"/><rect x="1269" y="246" width="1" height="14" fill="#0d2f9e"/><rect x="1273" y="229" width="1" height="25" fill="#2962ff"/><rect x="1272" y="238" width="3" height="7" fill="#2962ff"/><rect x="1273" y="239" width="1" height="5" fill="#0d2f9e"/><rect x="1277" y="236" width="1" height="23" fill="#5e35b1"/><rect x="1276" y="238" width="3" height="11" fill="#5e35b1"/><rect x="1277" y="239" width="1" height="9" fill="#fff"/><rect x="1282" y="247" width="1" height="7" fill="#5e35b1"/><rect x="1281" y="249" width="3" height="3" fill="#5e35b1"/><rect x="1282" y="250" width="1" height="1" fill="#fff"/><rect x="1286" y="245" width="1" height="10" fill="#5e35b1"/><rect x="1285" y="247" width="3" height="8" fill="#5e35b1"/><rect x="1286" y="248" width="1" height="6" fill="#fff"/><rect x="1290" y="238" width="1" height="17" fill="#2962ff"/><rect x="1289" y="240" width="3" height="15" fill="#2962ff"/><rect x="1290" y="241" width="1" height="13" fill="#0d2f9e"/><rect x="1294" y="224" width="1" height="19" fill="#2962ff"/><rect x="1293" y="230" width="3" height="11" fill="#2962ff"/><rect x="1294" y="231" width="1" height="9" fill="#0d2f9e"/><rect x="1298" y="190" width="1" height="42" fill="#2962ff"/><rect x="1297" y="193" width="3" height="37" fill="#2962ff"/><rect x="1298" y="194" width="1" height="35" fill="#0d2f9e"/><rect x="1302" y="185" width="1" height="16" fill="#2962ff"/><rect x="1301" y="190" width="3" height="4" fill="#2962ff"/><rect x="1302" y="191" width="1" height="2" fill="#0d2f9e"/><rect x="1307" y="188" width="1" height="7" fill="#5e35b1"/><rect x="1306" y="190" width="3" height="5" fill="#5e35b1"/><rect x="1307" y="191" width="1" height="3" fill="#fff"/><rect x="1311" y="186" width="1" height="16" fill="#5e35b1"/><rect x="1310" y="195" width="3" height="2" fill="#5e35b1"/><rect x="1315" y="188" width="1" height="24" fill="#5e35b1"/><rect x="1314" y="197" width="3" height="8" fill="#5e35b1"/><rect x="1315" y="198" width="1" height="6" fill="#fff"/><rect x="1319" y="198" width="1" height="22" fill="#5e35b1"/><rect x="1318" y="203" width="3" height="10" fill="#5e35b1"/><rect x="1319" y="204" width="1" height="8" fill="#fff"/><rect x="1323" y="202" width="1" height="29" fill="#2962ff"/><rect x="1322" y="205" width="3" height="7" fill="#2962ff"/><rect x="1323" y="206" width="1" height="5" fill="#0d2f9e"/><rect x="1328" y="202" width="1" height="37" fill="#5e35b1"/><rect x="1327" y="205" width="3" height="18" fill="#5e35b1"/><rect x="1328" y="206" width="1" height="16" fill="#fff"/><rect x="1332" y="214" width="1" height="10" fill="#5e35b1"/><rect x="1331" y="221" width="3" height="2" fill="#5e35b1"/><rect x="1336" y="222" width="1" height="15" fill="#5e35b1"/><rect x="1335" y="222" width="3" height="15" fill="#5e35b1"/><rect x="1336" y="223" width="1" height="13" fill="#fff"/><rect x="1340" y="231" width="1" height="11" fill="#2962ff"/><rect x="1339" y="231" width="3" height="6" fill="#2962ff"/><rect x="1340" y="232" width="1" height="4" fill="#0d2f9e"/><rect x="1344" y="214" width="1" height="19" fill="#2962ff"/><rect x="1343" y="228" width="3" height="4" fill="#2962ff"/><rect x="1344" y="229" width="1" height="2" fill="#0d2f9e"/><rect x="1349" y="224" width="1" height="13" fill="#2962ff"/><rect x="1348" y="225" width="3" height="2" fill="#2962ff"/><rect x="1353" y="207" width="1" height="21" fill="#2962ff"/><rect x="1352" y="216" width="3" height="11" fill="#2962ff"/><rect x="1353" y="217" width="1" height="9" fill="#0d2f9e"/><rect x="1357" y="214" width="1" height="11" fill="#5e35b1"/><rect x="1356" y="215" width="3" height="3" fill="#5e35b1"/><rect x="1357" y="216" width="1" height="1" fill="#fff"/><rect x="1361" y="218" width="1" height="1" fill="#5e35b1"/><rect x="1360" y="218" width="3" height="2" fill="#5e35b1"/><rect x="1365" y="210" width="1" height="15" fill="#5e35b1"/><rect x="1364" y="215" width="3" height="3" fill="#5e35b1"/><rect x="1365" y="216" width="1" height="1" fill="#fff"/><rect x="1370" y="209" width="1" height="10" fill="#5e35b1"/><rect x="1369" y="216" width="3" height="2" fill="#5e35b1"/><rect x="1374" y="187" width="1" height="31" fill="#2962ff"/><rect x="1373" y="193" width="3" height="25" fill="#2962ff"/><rect x="1374" y="194" width="1" height="23" fill="#0d2f9e"/><rect x="1378" y="183" width="1" height="27" fill="#5e35b1"/><rect x="1377" y="192" width="3" height="8" fill="#5e35b1"/><rect x="1378" y="193" width="1" height="6" fill="#fff"/><rect x="1382" y="185" width="1" height="14" fill="#2962ff"/><rect x="1381" y="197" width="3" height="2" fill="#2962ff"/><rect x="1386" y="190" width="1" height="7" fill="#2962ff"/><rect x="1385" y="196" width="3" height="2" fill="#2962ff"/><rect x="1391" y="191" width="1" height="8" fill="#5e35b1"/><rect x="1390" y="192" width="3" height="5" fill="#5e35b1"/><rect x="1391" y="193" width="1" height="3" fill="#fff"/><rect x="1395" y="195" width="1" height="11" fill="#5e35b1"/><rect x="1394" y="196" width="3" height="2" fill="#5e35b1"/><rect x="1399" y="173" width="1" height="36" fill="#2962ff"/><rect x="1398" y="174" width="3" height="31" fill="#2962ff"/><rect x="1399" y="175" width="1" height="29" fill="#0d2f9e"/><rect x="1403" y="169" width="1" height="39" fill="#2962ff"/><rect x="1402" y="172" width="3" height="4" fill="#2962ff"/><rect x="1403" y="173" width="1" height="2" fill="#0d2f9e"/><rect x="1407" y="161" width="1" height="14" fill="#2962ff"/><rect x="1406" y="163" width="3" height="10" fill="#2962ff"/><rect x="1407" y="164" width="1" height="8" fill="#0d2f9e"/><rect x="1412" y="161" width="1" height="7" fill="#5e35b1"/><rect x="1411" y="162" width="3" height="2" fill="#5e35b1"/><rect x="1416" y="152" width="1" height="15" fill="#2962ff"/><rect x="1415" y="154" width="3" height="13" fill="#2962ff"/><rect x="1416" y="155" width="1" height="11" fill="#0d2f9e"/><rect x="1420" y="146" width="1" height="13" fill="#2962ff"/><rect x="1419" y="150" width="3" height="4" fill="#2962ff"/><rect x="1420" y="151" width="1" height="2" fill="#0d2f9e"/><rect x="1424" y="140" width="1" height="16" fill="#2962ff"/><rect x="1423" y="144" width="3" height="6" fill="#2962ff"/><rect x="1424" y="145" width="1" height="4" fill="#0d2f9e"/><rect x="1428" y="131" width="1" height="28" fill="#2962ff"/><rect x="1427" y="140" width="3" height="4" fill="#2962ff"/><rect x="1428" y="141" width="1" height="2" fill="#0d2f9e"/><rect x="1433" y="127" width="1" height="16" fill="#2962ff"/><rect x="1432" y="132" width="3" height="10" fill="#2962ff"/><rect x="1433" y="133" width="1" height="8" fill="#0d2f9e"/><rect x="1437" y="127" width="1" height="8" fill="#5e35b1"/><rect x="1436" y="132" width="3" height="3" fill="#5e35b1"/><rect x="1437" y="133" width="1" height="1" fill="#fff"/><rect x="1441" y="130" width="1" height="15" fill="#5e35b1"/><rect x="1440" y="134" width="3" height="9" fill="#5e35b1"/><rect x="1441" y="135" width="1" height="7" fill="#fff"/><rect x="1445" y="141" width="1" height="8" fill="#5e35b1"/><rect x="1444" y="141" width="3" height="3" fill="#5e35b1"/><rect x="1445" y="142" width="1" height="1" fill="#fff"/><rect x="1449" y="140" width="1" height="17" fill="#5e35b1"/><rect x="1448" y="144" width="3" height="13" fill="#5e35b1"/><rect x="1449" y="145" width="1" height="11" fill="#fff"/><rect x="1453" y="120" width="1" height="46" fill="#2962ff"/><rect x="1452" y="122" width="3" height="35" fill="#2962ff"/><rect x="1453" y="123" width="1" height="33" fill="#0d2f9e"/><rect x="1458" y="118" width="1" height="17" fill="#5e35b1"/><rect x="1457" y="123" width="3" height="10" fill="#5e35b1"/><rect x="1458" y="124" width="1" height="8" fill="#fff"/></g>
<text x="1504.7" y="60.8" font-family="Liberation Sans, sans-serif" font-size="12" fill="#2f67ff" textLength="79.7" lengthAdjust="spacingAndGlyphs">0.382(105.011)</text>
<text x="1517" y="317.9" font-family="Liberation Sans, sans-serif" font-size="12" fill="#2f67ff" textLength="67.2" lengthAdjust="spacingAndGlyphs">0.5(101.994)</text>
<rect x="0" y="0" width="247" height="24" fill="#fff" fill-opacity="0.6"/>
<circle cx="11.05" cy="11" r="9.05" fill="#08836d"/>
<text x="7" y="16.1" font-family="Liberation Sans, sans-serif" font-size="14.6" font-weight="bold" fill="#fff" textLength="8" lengthAdjust="spacingAndGlyphs">S</text>
<line x1="11" y1="7.5" x2="11" y2="14.5" stroke="#fff" stroke-opacity="0.35" stroke-width="1.4"/>
<text x="24.4" y="16.7" font-family="Liberation Sans, sans-serif" font-size="14.6" fill="#131722" textLength="188.6" lengthAdjust="spacingAndGlyphs">U.S. Dollar Index · 4h · TVC</text>
<text x="2.7" y="472.8" font-family="Liberation Sans, sans-serif" font-size="12" fill="#131722" textLength="122" lengthAdjust="spacingAndGlyphs">RSI 14 close SMA 14 2</text>
<rect x="1593" y="0" width="57" height="705" fill="#fff"/>
<line x1="1593.5" y1="0" x2="1593.5" y2="705" stroke="#f6f7fa" stroke-width="1"/>
<line x1="0" y1="451.5" x2="1650" y2="451.5" stroke="#2a2e39" stroke-width="1"/>
<text x="1602" y="30.4" font-family="Liberation Sans, sans-serif" font-size="12.4" fill="#131722" textLength="40.5" lengthAdjust="spacingAndGlyphs">105.500</text>
<text x="1602" y="72.9" font-family="Liberation Sans, sans-serif" font-size="12.4" fill="#131722" textLength="40.5" lengthAdjust="spacingAndGlyphs">105.000</text>
<text x="1602" y="115.5" font-family="Liberation Sans, sans-serif" font-size="12.4" fill="#131722" textLength="40.5" lengthAdjust="spacingAndGlyphs">104.500</text>
<text x="1602" y="158.0" font-family="Liberation Sans, sans-serif" font-size="12.4" fill="#131722" textLength="40.5" lengthAdjust="spacingAndGlyphs">104.000</text>
<text x="1602" y="285.6" font-family="Liberation Sans, sans-serif" font-size="12.4" fill="#131722" textLength="40.5" lengthAdjust="spacingAndGlyphs">102.500</text>
<text x="1602" y="328.1" font-family="Liberation Sans, sans-serif" font-size="12.4" fill="#131722" textLength="40.5" lengthAdjust="spacingAndGlyphs">102.000</text>
<text x="1602" y="370.7" font-family="Liberation Sans, sans-serif" font-size="12.4" fill="#131722" textLength="40.5" lengthAdjust="spacingAndGlyphs">101.500</text>
<text x="1602" y="475.9" font-family="Liberation Sans, sans-serif" font-size="12.4" fill="#131722" textLength="28.6" lengthAdjust="spacingAndGlyphs">80.00</text>
<text x="1602" y="509.9" font-family="Liberation Sans, sans-serif" font-size="12.4" fill="#131722" textLength="28.6" lengthAdjust="spacingAndGlyphs">70.00</text>
<text x="1602" y="543.9" font-family="Liberation Sans, sans-serif" font-size="12.4" fill="#131722" textLength="28.6" lengthAdjust="spacingAndGlyphs">60.00</text>
<text x="1602" y="577.9" font-family="Liberation Sans, sans-serif" font-size="12.4" fill="#131722" textLength="28.6" lengthAdjust="spacingAndGlyphs">50.00</text>
<text x="1602" y="611.9" font-family="Liberation Sans, sans-serif" font-size="12.4" fill="#131722" textLength="28.6" lengthAdjust="spacingAndGlyphs">40.00</text>
<text x="1602" y="645.9" font-family="Liberation Sans, sans-serif" font-size="12.4" fill="#131722" textLength="28.6" lengthAdjust="spacingAndGlyphs">30.00</text>
<text x="1602" y="679.9" font-family="Liberation Sans, sans-serif" font-size="12.4" fill="#131722" textLength="28.6" lengthAdjust="spacingAndGlyphs">20.00</text>
<path d="M1593 -4.5H1647a2 2 0 0 1 2 2V10.5a2 2 0 0 1 -2 2H1593Z" fill="#f23645"/>
<text x="1602" y="7.9" font-family="Liberation Sans, sans-serif" font-size="12.5" font-weight="bold" fill="#fff" textLength="41" lengthAdjust="spacingAndGlyphs">105.883</text>
<path d="M1593 119.0H1647a2 2 0 0 1 2 2V134.0a2 2 0 0 1 -2 2H1593Z" fill="#000"/>
<text x="1602" y="131.4" font-family="Liberation Sans, sans-serif" font-size="12.5" font-weight="bold" fill="#fff" textLength="41" lengthAdjust="spacingAndGlyphs">104.311</text>
<path d="M1593 158.0H1647a2 2 0 0 1 2 2V173.0a2 2 0 0 1 -2 2H1593Z" fill="#f23645"/>
<text x="1602" y="170.4" font-family="Liberation Sans, sans-serif" font-size="12.5" font-weight="bold" fill="#fff" textLength="41" lengthAdjust="spacingAndGlyphs">103.820</text>
<path d="M1593 175.0H1647a2 2 0 0 1 2 2V190.0a2 2 0 0 1 -2 2H1593Z" fill="#000"/>
<text x="1602" y="187.4" font-family="Liberation Sans, sans-serif" font-size="12.5" font-weight="bold" fill="#fff" textLength="41" lengthAdjust="spacingAndGlyphs">103.624</text>
<path d="M1593 192.0H1647a2 2 0 0 1 2 2V207.0a2 2 0 0 1 -2 2H1593Z" fill="#2962ff"/>
<text x="1602" y="204.4" font-family="Liberation Sans, sans-serif" font-size="12.5" font-weight="bold" fill="#fff" textLength="41" lengthAdjust="spacingAndGlyphs">103.448</text>
<path d="M1593 231.0H1647a2 2 0 0 1 2 2V246.0a2 2 0 0 1 -2 2H1593Z" fill="#000"/>
<text x="1602" y="243.4" font-family="Liberation Sans, sans-serif" font-size="12.5" font-weight="bold" fill="#fff" textLength="41" lengthAdjust="spacingAndGlyphs">102.992</text>
<path d="M1593 400.0H1647a2 2 0 0 1 2 2V415.0a2 2 0 0 1 -2 2H1593Z" fill="#2962ff"/>
<text x="1602" y="412.4" font-family="Liberation Sans, sans-serif" font-size="12.5" font-weight="bold" fill="#fff" textLength="41" lengthAdjust="spacingAndGlyphs">101.013</text>
<path d="M1593 417.0H1647a2 2 0 0 1 2 2V432.0a2 2 0 0 1 -2 2H1593Z" fill="#000"/>
<text x="1602" y="429.4" font-family="Liberation Sans, sans-serif" font-size="12.5" font-weight="bold" fill="#fff" textLength="41" lengthAdjust="spacingAndGlyphs">100.867</text>
<text x="38.0" y="698" font-family="Liberation Sans, sans-serif" font-size="12.4" fill="#131722" textLength="12" lengthAdjust="spacingAndGlyphs">13</text>
<text x="168.0" y="698" font-family="Liberation Sans, sans-serif" font-size="12.4" fill="#131722" textLength="12" lengthAdjust="spacingAndGlyphs">20</text>
<text x="298.0" y="698" font-family="Liberation Sans, sans-serif" font-size="12.4" fill="#131722" textLength="12" lengthAdjust="spacingAndGlyphs">27</text>
<text x="416.0" y="698" font-family="Liberation Sans, sans-serif" font-size="12.4" fill="#131722" textLength="19.7" lengthAdjust="spacingAndGlyphs" stroke="#131722" stroke-width="0.4">Apr</text>
<text x="558.4" y="698" font-family="Liberation Sans, sans-serif" font-size="12.4" fill="#131722" textLength="12" lengthAdjust="spacingAndGlyphs">10</text>
<text x="688.0" y="698" font-family="Liberation Sans, sans-serif" font-size="12.4" fill="#131722" textLength="12" lengthAdjust="spacingAndGlyphs">17</text>
<text x="818.0" y="698" font-family="Liberation Sans, sans-serif" font-size="12.4" fill="#131722" textLength="12" lengthAdjust="spacingAndGlyphs">24</text>
<text x="943.6" y="698" font-family="Liberation Sans, sans-serif" font-size="12.4" fill="#131722" textLength="21.3" lengthAdjust="spacingAndGlyphs" stroke="#131722" stroke-width="0.4">May</text>
<text x="1081.0" y="698" font-family="Liberation Sans, sans-serif" font-size="12.4" fill="#131722" textLength="6" lengthAdjust="spacingAndGlyphs">8</text>
<text x="1208.0" y="698" font-family="Liberation Sans, sans-serif" font-size="12.4" fill="#131722" textLength="12" lengthAdjust="spacingAndGlyphs">15</text>
<text x="1338.0" y="698" font-family="Liberation Sans, sans-serif" font-size="12.4" fill="#131722" textLength="12" lengthAdjust="spacingAndGlyphs">22</text>
<text x="1443.0" y="698" font-family="Liberation Sans, sans-serif" font-size="12.4" fill="#131722" textLength="12" lengthAdjust="spacingAndGlyphs">26</text>
<text x="1543.8" y="698" font-family="Liberation Sans, sans-serif" font-size="12.4" fill="#131722" textLength="20.5" lengthAdjust="spacingAndGlyphs" stroke="#131722" stroke-width="0.4">Jun</text>
<path d="M1617.2 694.9 L1620.6 689 L1627.6 689 L1631 694.9 L1627.6 700.8 L1620.6 700.8 Z" fill="none" stroke="#2a2e39" stroke-width="1.2" stroke-linejoin="round"/>
<circle cx="1624.1" cy="694.9" r="2.1" fill="none" stroke="#2a2e39" stroke-width="1.2"/>
<path d="M5 651 H16.9 V665.8 H11 V656.9 H5 Z" fill="#131722"/>
<circle cx="22" cy="654" r="3" fill="#131722"/>
<path d="M28.5 651 H34.7 L28.8 665.8 H22.1 Z" fill="#131722"/>
</svg>
</body></html>
